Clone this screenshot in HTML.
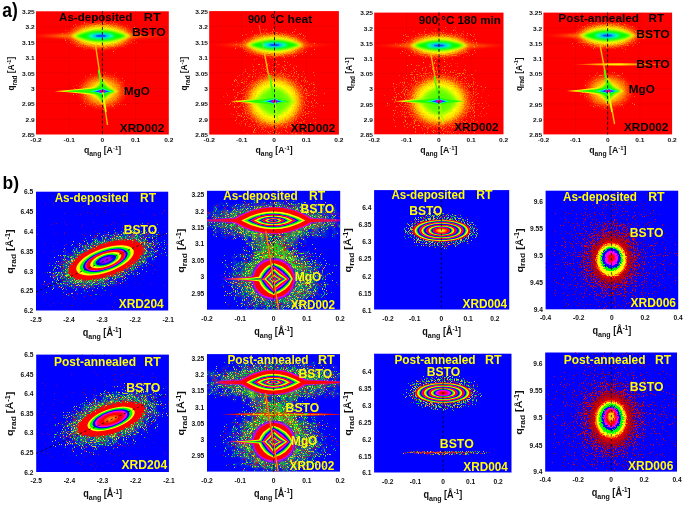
<!DOCTYPE html>
<html><head><meta charset="utf-8"><title>XRD reciprocal space maps</title>
<style>
html,body{margin:0;padding:0;background:#fff}
body{width:685px;height:508px;overflow:hidden}
svg{display:block}
text{font-family:"Liberation Sans",Arial,sans-serif;font-weight:bold}
</style></head><body>
<svg width="685" height="508" viewBox="0 0 685 508">
<defs>
<filter id="b05" x="-30%" y="-60%" width="160%" height="220%"><feGaussianBlur stdDeviation="0.5"/></filter>
<filter id="b1" x="-30%" y="-60%" width="160%" height="220%"><feGaussianBlur stdDeviation="0.7"/></filter>
<filter id="b2" x="-30%" y="-60%" width="160%" height="220%"><feGaussianBlur stdDeviation="1.2"/></filter>
<filter id="b3" x="-30%" y="-60%" width="160%" height="220%"><feGaussianBlur stdDeviation="2.2"/></filter>
<filter id="soft" x="-5%" y="-5%" width="110%" height="110%"><feGaussianBlur stdDeviation="0.4"/></filter>
<filter id="r6" x="-10%" y="-10%" width="120%" height="120%"><feTurbulence type="fractalNoise" baseFrequency="0.9" numOctaves="1" seed="2" result="n"/><feDisplacementMap in="SourceGraphic" in2="n" scale="7" xChannelSelector="R" yChannelSelector="G" result="d"/><feGaussianBlur in="d" stdDeviation="0.35"/></filter>
<filter id="r4" x="-10%" y="-10%" width="120%" height="120%"><feTurbulence type="fractalNoise" baseFrequency="0.9" numOctaves="1" seed="4" result="n"/><feDisplacementMap in="SourceGraphic" in2="n" scale="4.5" xChannelSelector="R" yChannelSelector="G" result="d"/><feGaussianBlur in="d" stdDeviation="0.35"/></filter>
<filter id="r2" x="-10%" y="-10%" width="120%" height="120%"><feTurbulence type="fractalNoise" baseFrequency="0.9" numOctaves="1" seed="6" result="n"/><feDisplacementMap in="SourceGraphic" in2="n" scale="2.4" xChannelSelector="R" yChannelSelector="G" result="d"/><feGaussianBlur in="d" stdDeviation="0.3"/></filter>
<filter id="r1" x="-10%" y="-10%" width="120%" height="120%"><feTurbulence type="fractalNoise" baseFrequency="0.9" numOctaves="1" seed="8" result="n"/><feDisplacementMap in="SourceGraphic" in2="n" scale="1.3" xChannelSelector="R" yChannelSelector="G" result="d"/><feGaussianBlur in="d" stdDeviation="0.3"/></filter>
<filter id="spb" x="0" y="0" width="1" height="1" color-interpolation-filters="sRGB"><feTurbulence type="fractalNoise" baseFrequency="0.9" numOctaves="1" seed="3" result="n"/><feComposite in="n" in2="SourceGraphic" operator="arithmetic" k1="1" k2="0" k3="0" k4="0" result="m"/><feComponentTransfer in="m" result="t"><feFuncA type="discrete" tableValues="0 0 0 0 0 0 0 0 0 0 0.75 0.75 0.75 0.75 0.75 0.75 0.75 0.75 0.75 0.75"/></feComponentTransfer><feColorMatrix in="n" type="matrix" values="1 0 0 0 0 1 0 0 0 0 1 0 0 0 0 0 0 0 0 1" result="n1"/><feComponentTransfer in="n1" result="c"><feFuncR type="discrete" tableValues="1 1 1 1 1 1 1 1 1 1 1 1 1 1 1 1 1 1 1 1 1 0 0 0 0 0 0 0 0 0 0 0 0 0 0 0 0 0 0 0"/><feFuncG type="discrete" tableValues="0 0 0 0 0 0 0 0 0 0 0 0 0 0 0 0 0 1 1 1 1 1 1 1 1 1 1 1 1 1 1 1 1 1 1 1 1 1 1 1"/><feFuncB type="discrete" tableValues="0 0 0 0 0 0 0 0 0 0 0 0 0 0 0 0 0 0 0 0 0 0 0 0 0 0 0 0 0 0 0 0 0 0 0 0 0 0 0 0"/></feComponentTransfer><feComposite in="c" in2="t" operator="in" result="s"/><feGaussianBlur in="s" stdDeviation="0.45"/></filter>
<filter id="hzb" x="0" y="0" width="1" height="1" color-interpolation-filters="sRGB"><feTurbulence type="fractalNoise" baseFrequency="0.9" numOctaves="1" seed="11" result="n"/><feComposite in="n" in2="SourceGraphic" operator="arithmetic" k1="1" k2="0" k3="0" k4="0" result="m"/><feComponentTransfer in="m" result="t"><feFuncA type="discrete" tableValues="0 0 0 0 0 0 0 0 0 0 0.95 0.95 0.95 0.95 0.95 0.95 0.95 0.95 0.95 0.95"/></feComponentTransfer><feColorMatrix in="n" type="matrix" values="1 0 0 0 0 1 0 0 0 0 1 0 0 0 0 0 0 0 0 1" result="n1"/><feComponentTransfer in="n1" result="c"><feFuncR type="discrete" tableValues="1 1 1 1 1 1 1 1 1 1 1 1 1 1 1 1 1 1 1 0 0 0 0 0 0 0 0 0 0 0 0 0 0 0 0 0 0 0 0 0"/><feFuncG type="discrete" tableValues="0 0 0 0 0 0 0 0 0 0 0 0 0 0 0 0 1 1 1 1 1 1 1 1 1 1 1 1 1 1 1 1 1 1 1 1 1 1 1 1"/><feFuncB type="discrete" tableValues="0 0 0 0 0 0 0 0 0 0 0 0 0 0 0 0 0 0 0 0 0 0 0 0 0 0 0 0 0 0 0 0 0 0 0 0 0 0 0 0"/></feComponentTransfer><feComposite in="c" in2="t" operator="in" result="s"/><feGaussianBlur in="s" stdDeviation="0.85"/></filter>
<filter id="hzr" x="0" y="0" width="1" height="1" color-interpolation-filters="sRGB"><feTurbulence type="fractalNoise" baseFrequency="0.9" numOctaves="1" seed="13" result="n"/><feComposite in="n" in2="SourceGraphic" operator="arithmetic" k1="1" k2="0" k3="0" k4="0" result="m"/><feComponentTransfer in="m" result="t"><feFuncA type="discrete" tableValues="0 0 0 0 0 0 0 0 0 0 1 1 1 1 1 1 1 1 1 1"/></feComponentTransfer><feColorMatrix in="n" type="matrix" values="1 0 0 0 0 1 0 0 0 0 1 0 0 0 0 0 0 0 0 1" result="n1"/><feComponentTransfer in="n1" result="c"><feFuncR type="discrete" tableValues=".5 .5 .5 .5 .5 .5 .55 .6 .65 .7 .8 .9 1 1 1 1 1 1 1 1"/><feFuncG type="discrete" tableValues="0 0"/><feFuncB type="discrete" tableValues="0 0"/></feComponentTransfer><feComposite in="c" in2="t" operator="in" result="s"/><feGaussianBlur in="s" stdDeviation="0.7"/></filter>
<filter id="spd" x="0" y="0" width="1" height="1" color-interpolation-filters="sRGB"><feTurbulence type="fractalNoise" baseFrequency="0.9" numOctaves="1" seed="17" result="n"/><feComposite in="n" in2="SourceGraphic" operator="arithmetic" k1="1" k2="0" k3="0" k4="0" result="m"/><feComponentTransfer in="m" result="t"><feFuncA type="discrete" tableValues="0 0 0 0 0 0 0 0 0 0 0.7 0.7 0.7 0.7 0.7 0.7 0.7 0.7 0.7 0.7"/></feComponentTransfer><feColorMatrix in="n" type="matrix" values="1 0 0 0 0 1 0 0 0 0 1 0 0 0 0 0 0 0 0 1" result="n1"/><feComponentTransfer in="n1" result="c"><feFuncR type="discrete" tableValues=".6 .6 .6 .6 .6 .6 .6 .6 .6 .6 .7 .7 .7 .7 .7 .7 .7 .7 .7 .7"/><feFuncG type="discrete" tableValues="0 0"/><feFuncB type="discrete" tableValues=".1 .1 .1 .1 .1 .1 .1 .1 .1 .3 .3 .3 .3 .3 .3 .3 .3 .3 .3 .3"/></feComponentTransfer><feComposite in="c" in2="t" operator="in" result="s"/><feGaussianBlur in="s" stdDeviation="0.4"/></filter>
<filter id="spa" x="0" y="0" width="1" height="1" color-interpolation-filters="sRGB"><feTurbulence type="fractalNoise" baseFrequency="0.9" numOctaves="1" seed="5" result="n"/><feComposite in="n" in2="SourceGraphic" operator="arithmetic" k1="1" k2="0" k3="0" k4="0" result="m"/><feComponentTransfer in="m" result="t"><feFuncA type="discrete" tableValues="0 0 0 0 0 0 0 0 0 0 0.7 0.7 0.7 0.7 0.7 0.7 0.7 0.7 0.7 0.7"/></feComponentTransfer><feColorMatrix in="n" type="matrix" values="1 0 0 0 0 1 0 0 0 0 1 0 0 0 0 0 0 0 0 1" result="n1"/><feComponentTransfer in="n1" result="c"><feFuncR type="discrete" tableValues="1 1"/><feFuncG type="discrete" tableValues=".25 .25 .25 .25 .25 .25 .25 .3 .35 .4 .5 .6 .7 .8 .8 .8 .8 .8 .8 .8"/><feFuncB type="discrete" tableValues="0 0"/></feComponentTransfer><feComposite in="c" in2="t" operator="in" result="s"/><feGaussianBlur in="s" stdDeviation="0.3"/></filter>
<filter id="spr" x="0" y="0" width="1" height="1" color-interpolation-filters="sRGB"><feTurbulence type="fractalNoise" baseFrequency="0.9" numOctaves="1" seed="7" result="n"/><feComposite in="n" in2="SourceGraphic" operator="arithmetic" k1="1" k2="0" k3="0" k4="0" result="m"/><feComponentTransfer in="m" result="t"><feFuncA type="discrete" tableValues="0 0 0 0 0 0 0 0 0 0 0.85 0.85 0.85 0.85 0.85 0.85 0.85 0.85 0.85 0.85"/></feComponentTransfer><feColorMatrix in="n" type="matrix" values="1 0 0 0 0 1 0 0 0 0 1 0 0 0 0 0 0 0 0 1" result="n1"/><feComponentTransfer in="n1" result="c"><feFuncR type="discrete" tableValues=".4 .4 .4 .4 .4 .4 .45 .5 .55 .65 .75 .85 .95 1 1 1 1 1 1 1"/><feFuncG type="discrete" tableValues="0 0"/><feFuncB type="discrete" tableValues=".25 .25 .25 .25 .25 .25 .2 .2 .15 .1 .05 0 0 0 0 0 0 0 0 0"/></feComponentTransfer><feComposite in="c" in2="t" operator="in" result="s"/><feGaussianBlur in="s" stdDeviation="0.35"/></filter>
<clipPath id="c1"><rect x="36.00" y="11.30" width="132.80" height="123.20"/></clipPath>
<clipPath id="c2"><rect x="209.20" y="11.10" width="129.70" height="123.50"/></clipPath>
<clipPath id="c3"><rect x="374.20" y="12.60" width="129.30" height="121.70"/></clipPath>
<clipPath id="c4"><rect x="543.40" y="12.60" width="128.70" height="121.80"/></clipPath>
<clipPath id="c5"><rect x="36.00" y="191.70" width="132.20" height="118.80"/></clipPath>
<clipPath id="c6"><rect x="207.00" y="190.80" width="133.20" height="118.90"/></clipPath>
<clipPath id="c7"><rect x="374.10" y="190.10" width="135.10" height="119.40"/></clipPath>
<clipPath id="c8"><rect x="545.60" y="190.70" width="132.60" height="118.60"/></clipPath>
<clipPath id="c9"><rect x="36.20" y="354.60" width="132.70" height="117.40"/></clipPath>
<clipPath id="c10"><rect x="207.00" y="354.10" width="133.00" height="117.50"/></clipPath>
<clipPath id="c11"><rect x="374.10" y="353.70" width="137.40" height="118.80"/></clipPath>
<clipPath id="c12"><rect x="545.20" y="352.50" width="131.80" height="119.10"/></clipPath>
<radialGradient id="g13" ><stop offset="0" stop-color="#fff" stop-opacity="0.9"/><stop offset="0.5" stop-color="#fff" stop-opacity="0.9"/><stop offset="1" stop-color="#fff" stop-opacity="0.64"/></radialGradient>
<radialGradient id="g14" ><stop offset="0" stop-color="#fff" stop-opacity="0.9"/><stop offset="0.4" stop-color="#fff" stop-opacity="0.9"/><stop offset="1" stop-color="#fff" stop-opacity="0.64"/></radialGradient>
<linearGradient id="g15" gradientUnits="userSpaceOnUse" x1="36.00" x2="168.80" y1="0" y2="0"><stop offset="0" stop-color="#ff7000" stop-opacity="0.25"/><stop offset="0.2" stop-color="#ff9000" stop-opacity="0.8"/><stop offset="0.5" stop-color="#ffff00"/><stop offset="0.8" stop-color="#ff9000" stop-opacity="0.48"/><stop offset="1" stop-color="#ff7000" stop-opacity="0.12"/></linearGradient>
<radialGradient id="g16" ><stop offset="0" stop-color="#ffff00"/><stop offset="0.5" stop-color="#ffee00"/><stop offset="0.68" stop-color="#ffb000" stop-opacity="0.85"/><stop offset="0.84" stop-color="#ff6000" stop-opacity="0.45"/><stop offset="1" stop-color="#ff2000" stop-opacity="0"/></radialGradient>
<radialGradient id="g17" ><stop offset="0" stop-color="#ffff00"/><stop offset="0.35" stop-color="#ffe000"/><stop offset="0.6" stop-color="#ffa000" stop-opacity="0.8"/><stop offset="0.8" stop-color="#ff6000" stop-opacity="0.4"/><stop offset="1" stop-color="#ff2000" stop-opacity="0"/></radialGradient>
<radialGradient id="g18" ><stop offset="0" stop-color="#fff" stop-opacity="0.92"/><stop offset="0.5" stop-color="#fff" stop-opacity="0.92"/><stop offset="1" stop-color="#fff" stop-opacity="0.64"/></radialGradient>
<radialGradient id="g19" ><stop offset="0" stop-color="#fff" stop-opacity="0.97"/><stop offset="0.5" stop-color="#fff" stop-opacity="0.97"/><stop offset="1" stop-color="#fff" stop-opacity="0.64"/></radialGradient>
<linearGradient id="g20" gradientUnits="userSpaceOnUse" x1="219.20" x2="328.90" y1="0" y2="0"><stop offset="0" stop-color="#ff7000" stop-opacity="0.15"/><stop offset="0.2" stop-color="#ff9000" stop-opacity="0.48"/><stop offset="0.5" stop-color="#ffff00"/><stop offset="0.8" stop-color="#ff9000" stop-opacity="0.4"/><stop offset="1" stop-color="#ff7000" stop-opacity="0.1"/></linearGradient>
<radialGradient id="g21" ><stop offset="0" stop-color="#ffff00"/><stop offset="0.5" stop-color="#ffee00"/><stop offset="0.68" stop-color="#ffb000" stop-opacity="0.85"/><stop offset="0.84" stop-color="#ff6000" stop-opacity="0.45"/><stop offset="1" stop-color="#ff2000" stop-opacity="0"/></radialGradient>
<radialGradient id="g22" ><stop offset="0" stop-color="#48ff00"/><stop offset="0.32" stop-color="#80ff00"/><stop offset="0.47" stop-color="#c8ff00"/><stop offset="0.53" stop-color="#ffff00"/><stop offset="0.63" stop-color="#ffe000"/><stop offset="0.73" stop-color="#ffb000" stop-opacity="0.9"/><stop offset="0.86" stop-color="#ff6000" stop-opacity="0.5"/><stop offset="1" stop-color="#ff2000" stop-opacity="0"/></radialGradient>
<linearGradient id="g23" gradientUnits="userSpaceOnUse" x1="230.30" x2="268.30" y1="0" y2="0"><stop offset="0" stop-color="#fff000"/><stop offset="0.45" stop-color="#e0ff00"/><stop offset="0.7" stop-color="#a0ff00" stop-opacity="0.9"/><stop offset="1" stop-color="#80ff00" stop-opacity="0"/></linearGradient>
<radialGradient id="g24" ><stop offset="0" stop-color="#fff" stop-opacity="0.92"/><stop offset="0.5" stop-color="#fff" stop-opacity="0.92"/><stop offset="1" stop-color="#fff" stop-opacity="0.64"/></radialGradient>
<radialGradient id="g25" ><stop offset="0" stop-color="#fff" stop-opacity="0.97"/><stop offset="0.5" stop-color="#fff" stop-opacity="0.97"/><stop offset="1" stop-color="#fff" stop-opacity="0.64"/></radialGradient>
<linearGradient id="g26" gradientUnits="userSpaceOnUse" x1="382.20" x2="503.50" y1="0" y2="0"><stop offset="0" stop-color="#ff7000" stop-opacity="0.225"/><stop offset="0.2" stop-color="#ff9000" stop-opacity="0.72"/><stop offset="0.5" stop-color="#ffff00"/><stop offset="0.8" stop-color="#ff9000" stop-opacity="0.48"/><stop offset="1" stop-color="#ff7000" stop-opacity="0.12"/></linearGradient>
<radialGradient id="g27" ><stop offset="0" stop-color="#ffff00"/><stop offset="0.5" stop-color="#ffee00"/><stop offset="0.68" stop-color="#ffb000" stop-opacity="0.85"/><stop offset="0.84" stop-color="#ff6000" stop-opacity="0.45"/><stop offset="1" stop-color="#ff2000" stop-opacity="0"/></radialGradient>
<radialGradient id="g28" ><stop offset="0" stop-color="#48ff00"/><stop offset="0.32" stop-color="#80ff00"/><stop offset="0.47" stop-color="#c8ff00"/><stop offset="0.53" stop-color="#ffff00"/><stop offset="0.63" stop-color="#ffe000"/><stop offset="0.73" stop-color="#ffb000" stop-opacity="0.9"/><stop offset="0.86" stop-color="#ff6000" stop-opacity="0.5"/><stop offset="1" stop-color="#ff2000" stop-opacity="0"/></radialGradient>
<linearGradient id="g29" gradientUnits="userSpaceOnUse" x1="394.60" x2="433.00" y1="0" y2="0"><stop offset="0" stop-color="#fff000"/><stop offset="0.45" stop-color="#e0ff00"/><stop offset="0.7" stop-color="#a0ff00" stop-opacity="0.9"/><stop offset="1" stop-color="#80ff00" stop-opacity="0"/></linearGradient>
<radialGradient id="g30" ><stop offset="0" stop-color="#fff" stop-opacity="0.9"/><stop offset="0.5" stop-color="#fff" stop-opacity="0.9"/><stop offset="1" stop-color="#fff" stop-opacity="0.64"/></radialGradient>
<radialGradient id="g31" ><stop offset="0" stop-color="#fff" stop-opacity="0.9"/><stop offset="0.4" stop-color="#fff" stop-opacity="0.9"/><stop offset="1" stop-color="#fff" stop-opacity="0.64"/></radialGradient>
<linearGradient id="g32" gradientUnits="userSpaceOnUse" x1="551.40" x2="672.10" y1="0" y2="0"><stop offset="0" stop-color="#ff7000" stop-opacity="0.25"/><stop offset="0.2" stop-color="#ff9000" stop-opacity="0.8"/><stop offset="0.5" stop-color="#ffff00"/><stop offset="0.8" stop-color="#ff9000" stop-opacity="0.32"/><stop offset="1" stop-color="#ff7000" stop-opacity="0.08"/></linearGradient>
<radialGradient id="g33" ><stop offset="0" stop-color="#ffff00"/><stop offset="0.5" stop-color="#ffee00"/><stop offset="0.68" stop-color="#ffb000" stop-opacity="0.85"/><stop offset="0.84" stop-color="#ff6000" stop-opacity="0.45"/><stop offset="1" stop-color="#ff2000" stop-opacity="0"/></radialGradient>
<linearGradient id="g34" gradientUnits="userSpaceOnUse" x1="572.00" x2="668.00" y1="0" y2="0"><stop offset="0" stop-color="#ffa000" stop-opacity="0"/><stop offset="0.15" stop-color="#ffb000" stop-opacity="0.6"/><stop offset="0.38" stop-color="#ffff00" stop-opacity="0.95"/><stop offset="0.5" stop-color="#ffff00" stop-opacity="0.95"/><stop offset="0.7" stop-color="#ffc000" stop-opacity="0.75"/><stop offset="1" stop-color="#ffa000" stop-opacity="0.3"/></linearGradient>
<radialGradient id="g35" ><stop offset="0" stop-color="#ffff00"/><stop offset="0.35" stop-color="#ffe000"/><stop offset="0.6" stop-color="#ffa000" stop-opacity="0.8"/><stop offset="0.8" stop-color="#ff6000" stop-opacity="0.4"/><stop offset="1" stop-color="#ff2000" stop-opacity="0"/></radialGradient>
<radialGradient id="g36" ><stop offset="0" stop-color="#fff" stop-opacity="0.71"/><stop offset="0.3" stop-color="#fff" stop-opacity="0.71"/><stop offset="1" stop-color="#fff" stop-opacity="0.66"/></radialGradient>
<radialGradient id="g37" ><stop offset="0" stop-color="#fff"/><stop offset="0.62" stop-color="#fff"/><stop offset="1" stop-color="#fff" stop-opacity="0.64"/></radialGradient>
<radialGradient id="g38" ><stop offset="0" stop-color="#fff" stop-opacity="0.97"/><stop offset="0.55" stop-color="#fff" stop-opacity="0.97"/><stop offset="1" stop-color="#fff" stop-opacity="0.64"/></radialGradient>
<radialGradient id="g39" ><stop offset="0" stop-color="#fff"/><stop offset="0.5" stop-color="#fff"/><stop offset="1" stop-color="#fff" stop-opacity="0.64"/></radialGradient>
<radialGradient id="g40" ><stop offset="0" stop-color="#fff" stop-opacity="0.95"/><stop offset="0.5" stop-color="#fff" stop-opacity="0.95"/><stop offset="1" stop-color="#fff" stop-opacity="0.64"/></radialGradient>
<radialGradient id="g41" ><stop offset="0" stop-color="#fff" stop-opacity="0.97"/><stop offset="0.5" stop-color="#fff" stop-opacity="0.97"/><stop offset="1" stop-color="#fff" stop-opacity="0.64"/></radialGradient>
<radialGradient id="g42" ><stop offset="0" stop-color="#fff" stop-opacity="0.97"/><stop offset="0.5" stop-color="#fff" stop-opacity="0.97"/><stop offset="1" stop-color="#fff" stop-opacity="0.64"/></radialGradient>
<radialGradient id="g43" ><stop offset="0" stop-color="#fff" stop-opacity="0.93"/><stop offset="0.4" stop-color="#fff" stop-opacity="0.93"/><stop offset="1" stop-color="#fff" stop-opacity="0.64"/></radialGradient>
<linearGradient id="g44" gradientUnits="userSpaceOnUse" x1="207.00" x2="340.20" y1="0" y2="0"><stop offset="0" stop-color="#b000ff" stop-opacity="0.5"/><stop offset="0.3" stop-color="#c000ff" stop-opacity="0.9"/><stop offset="0.7" stop-color="#c000ff" stop-opacity="0.9"/><stop offset="1" stop-color="#b000ff" stop-opacity="0.5"/></linearGradient>
<linearGradient id="g45" gradientUnits="userSpaceOnUse" x1="207.00" x2="340.20" y1="0" y2="0"><stop offset="0" stop-color="#ff0040" stop-opacity="0.7"/><stop offset="0.25" stop-color="#ff0000"/><stop offset="0.75" stop-color="#ff0000"/><stop offset="1" stop-color="#ff0040" stop-opacity="0.7"/></linearGradient>
<radialGradient id="g46" ><stop offset="0" stop-color="#fff"/><stop offset="0.55" stop-color="#fff"/><stop offset="1" stop-color="#fff" stop-opacity="0.64"/></radialGradient>
<radialGradient id="g47" ><stop offset="0" stop-color="#fff" stop-opacity="0.95"/><stop offset="0.5" stop-color="#fff" stop-opacity="0.95"/><stop offset="1" stop-color="#fff" stop-opacity="0.64"/></radialGradient>
<radialGradient id="g48" ><stop offset="0" stop-color="#fff"/><stop offset="0.72" stop-color="#fff"/><stop offset="1" stop-color="#fff" stop-opacity="0.64"/></radialGradient>
<radialGradient id="g49" ><stop offset="0" stop-color="#fff"/><stop offset="0.5" stop-color="#fff"/><stop offset="1" stop-color="#fff" stop-opacity="0.64"/></radialGradient>
<radialGradient id="g50" ><stop offset="0" stop-color="#fff"/><stop offset="0.3" stop-color="#fff"/><stop offset="0.5" stop-color="#fff" stop-opacity="0.8"/><stop offset="1" stop-color="#fff" stop-opacity="0.67"/></radialGradient>
<radialGradient id="g51" ><stop offset="0" stop-color="#ff0000"/><stop offset="0.62" stop-color="#f00000"/><stop offset="0.76" stop-color="#d00000" stop-opacity="0.85"/><stop offset="0.88" stop-color="#a80000" stop-opacity="0.5"/><stop offset="1" stop-color="#900000" stop-opacity="0"/></radialGradient>
<radialGradient id="g52" ><stop offset="0" stop-color="#fff" stop-opacity="0.71"/><stop offset="0.3" stop-color="#fff" stop-opacity="0.71"/><stop offset="1" stop-color="#fff" stop-opacity="0.66"/></radialGradient>
<radialGradient id="g53" ><stop offset="0" stop-color="#fff"/><stop offset="0.6" stop-color="#fff"/><stop offset="1" stop-color="#fff" stop-opacity="0.64"/></radialGradient>
<radialGradient id="g54" ><stop offset="0" stop-color="#fff" stop-opacity="0.97"/><stop offset="0.52" stop-color="#fff" stop-opacity="0.97"/><stop offset="1" stop-color="#fff" stop-opacity="0.64"/></radialGradient>
<radialGradient id="g55" ><stop offset="0" stop-color="#fff"/><stop offset="0.5" stop-color="#fff"/><stop offset="1" stop-color="#fff" stop-opacity="0.64"/></radialGradient>
<radialGradient id="g56" ><stop offset="0" stop-color="#fff" stop-opacity="0.95"/><stop offset="0.5" stop-color="#fff" stop-opacity="0.95"/><stop offset="1" stop-color="#fff" stop-opacity="0.64"/></radialGradient>
<radialGradient id="g57" ><stop offset="0" stop-color="#fff" stop-opacity="0.97"/><stop offset="0.5" stop-color="#fff" stop-opacity="0.97"/><stop offset="1" stop-color="#fff" stop-opacity="0.64"/></radialGradient>
<radialGradient id="g58" ><stop offset="0" stop-color="#fff" stop-opacity="0.97"/><stop offset="0.5" stop-color="#fff" stop-opacity="0.97"/><stop offset="1" stop-color="#fff" stop-opacity="0.64"/></radialGradient>
<radialGradient id="g59" ><stop offset="0" stop-color="#fff" stop-opacity="0.93"/><stop offset="0.4" stop-color="#fff" stop-opacity="0.93"/><stop offset="1" stop-color="#fff" stop-opacity="0.64"/></radialGradient>
<linearGradient id="g60" gradientUnits="userSpaceOnUse" x1="215.00" x2="370.00" y1="0" y2="0"><stop offset="0" stop-color="#b000ff" stop-opacity="0"/><stop offset="0.05" stop-color="#c000ff" stop-opacity="0.8"/><stop offset="0.3" stop-color="#c000ff" stop-opacity="0.9"/><stop offset="0.7" stop-color="#c000ff" stop-opacity="0.9"/><stop offset="1" stop-color="#b000ff" stop-opacity="0.5"/></linearGradient>
<linearGradient id="g61" gradientUnits="userSpaceOnUse" x1="215.00" x2="370.00" y1="0" y2="0"><stop offset="0" stop-color="#ff0040" stop-opacity="0"/><stop offset="0.05" stop-color="#ff0020" stop-opacity="0.9"/><stop offset="0.25" stop-color="#ff0000"/><stop offset="0.75" stop-color="#ff0000"/><stop offset="1" stop-color="#ff0040" stop-opacity="0.7"/></linearGradient>
<radialGradient id="g62" ><stop offset="0" stop-color="#fff"/><stop offset="0.55" stop-color="#fff"/><stop offset="1" stop-color="#fff" stop-opacity="0.64"/></radialGradient>
<radialGradient id="g63" ><stop offset="0" stop-color="#fff" stop-opacity="0.95"/><stop offset="0.5" stop-color="#fff" stop-opacity="0.95"/><stop offset="1" stop-color="#fff" stop-opacity="0.64"/></radialGradient>
<radialGradient id="g64" ><stop offset="0" stop-color="#fff"/><stop offset="0.72" stop-color="#fff"/><stop offset="1" stop-color="#fff" stop-opacity="0.64"/></radialGradient>
<radialGradient id="g65" ><stop offset="0" stop-color="#fff"/><stop offset="0.8" stop-color="#fff"/><stop offset="1" stop-color="#fff" stop-opacity="0.64"/></radialGradient>
<radialGradient id="g66" ><stop offset="0" stop-color="#fff"/><stop offset="0.5" stop-color="#fff"/><stop offset="1" stop-color="#fff" stop-opacity="0.64"/></radialGradient>
<radialGradient id="g67" ><stop offset="0" stop-color="#fff"/><stop offset="0.3" stop-color="#fff"/><stop offset="0.5" stop-color="#fff" stop-opacity="0.8"/><stop offset="1" stop-color="#fff" stop-opacity="0.67"/></radialGradient>
<radialGradient id="g68" ><stop offset="0" stop-color="#ff0000"/><stop offset="0.62" stop-color="#f00000"/><stop offset="0.76" stop-color="#d00000" stop-opacity="0.85"/><stop offset="0.88" stop-color="#a80000" stop-opacity="0.5"/><stop offset="1" stop-color="#900000" stop-opacity="0"/></radialGradient>
</defs>
<rect width="685" height="508" fill="#fff"/>
<rect x="36.00" y="11.30" width="132.80" height="123.20" fill="#ff0000"/>
<g stroke="#600000" stroke-opacity="0.4" stroke-width="0.6" stroke-dasharray="0.8 1.2"><line x1="36.00" y1="26.70" x2="168.80" y2="26.70"/><line x1="36.00" y1="42.10" x2="168.80" y2="42.10"/><line x1="36.00" y1="57.50" x2="168.80" y2="57.50"/><line x1="36.00" y1="72.90" x2="168.80" y2="72.90"/><line x1="36.00" y1="88.30" x2="168.80" y2="88.30"/><line x1="36.00" y1="103.70" x2="168.80" y2="103.70"/><line x1="36.00" y1="119.10" x2="168.80" y2="119.10"/><line x1="69.20" y1="11.30" x2="69.20" y2="134.50"/><line x1="102.40" y1="11.30" x2="102.40" y2="134.50"/><line x1="135.60" y1="11.30" x2="135.60" y2="134.50"/></g>
<g clip-path="url(#c1)"><g filter="url(#spa)"><ellipse cx="101.00" cy="36.00" rx="46.00" ry="18.00" fill="url(#g13)"/></g></g>
<g clip-path="url(#c1)"><g filter="url(#spa)"><ellipse cx="102.00" cy="91.50" rx="34.00" ry="24.00" fill="url(#g14)"/></g></g>
<g clip-path="url(#c1)">
<path d="M26.00 35.90Q102.40 30.70 178.80 35.90Q102.40 41.10 26.00 35.90Z" fill="url(#g15)" filter="url(#b2)"/>
<ellipse cx="101.00" cy="35.90" rx="38.00" ry="15.50" fill="url(#g16)" filter="url(#r4)"/>
<path d="M71.00 35.90Q101.00 20.70 131.00 35.90Q101.00 51.10 71.00 35.90Z" fill="#e8ff00" filter="url(#b2)"/>
<path d="M75.50 35.90Q101.00 24.70 126.50 35.90Q101.00 47.10 75.50 35.90Z" fill="#00ff00" filter="url(#b2)"/>
<ellipse cx="101.00" cy="35.90" rx="13.00" ry="3.00" fill="#00ffd0" filter="url(#b2)"/>
<ellipse cx="101.00" cy="35.90" rx="8.50" ry="2.00" fill="#00a0ff" filter="url(#b2)"/>
<ellipse cx="101.00" cy="35.90" rx="5.00" ry="1.10" fill="#0050ff" filter="url(#b1)"/>
</g>
<g clip-path="url(#c1)"><line x1="95.50" y1="45.00" x2="107.50" y2="125.00" stroke="#ffc000" stroke-width="1.40" stroke-opacity="1.00" filter="url(#b1)"/></g>
<g clip-path="url(#c1)">
<ellipse cx="102.30" cy="91.20" rx="27.00" ry="20.00" fill="url(#g17)" filter="url(#r4)"/>
<path d="M85.30 91.20Q97.20 87.15 102.30 77.70Q107.10 87.15 118.30 91.20Q107.10 95.25 102.30 104.70Q97.20 95.25 85.30 91.20Z" fill="#fff000" filter="url(#b2)"/>
<path d="M54.50 91.20Q83.18 89.12 102.30 86.00Q108.58 89.12 118.00 91.20Q108.58 93.28 102.30 96.40Q83.18 93.28 54.50 91.20Z" fill="#fff000" filter="url(#b1)"/>
<path d="M63.50 91.20Q86.78 89.76 102.30 87.60Q106.98 89.76 114.00 91.20Q106.98 92.64 102.30 94.80Q86.78 92.64 63.50 91.20Z" fill="#20ff00" filter="url(#b1)"/>
<path d="M89.30 91.20Q99.05 88.45 102.30 80.20Q105.55 88.45 115.30 91.20Q105.55 93.95 102.30 102.20Q99.05 93.95 89.30 91.20Z" fill="#10ff00" filter="url(#b2)"/>
<path d="M88.80 91.20Q98.59 90.29 102.30 87.90Q105.46 90.29 113.80 91.20Q105.46 92.11 102.30 94.50Q98.59 92.11 88.80 91.20Z" fill="#00ffe0" filter="url(#b1)"/>
<path d="M93.80 91.20Q99.75 90.51 102.30 88.90Q104.55 90.51 109.80 91.20Q104.55 91.89 102.30 93.50Q99.75 91.89 93.80 91.20Z" fill="#0030ff" filter="url(#b1)"/>
<ellipse cx="102.30" cy="91.20" rx="3.00" ry="1.50" fill="#d000d0" />
<ellipse cx="102.30" cy="91.20" rx="1.40" ry="0.80" fill="#ff0030" />
</g>
<g clip-path="url(#c1)"><line x1="98.50" y1="70.00" x2="102.00" y2="90.00" stroke="#40ff00" stroke-width="1.60" stroke-opacity="1.00" filter="url(#b1)"/></g>
<g clip-path="url(#c1)"><line x1="102.60" y1="92.00" x2="106.00" y2="112.00" stroke="#e0ff00" stroke-width="1.60" stroke-opacity="1.00" filter="url(#b1)"/></g>
<line x1="102.40" y1="11.30" x2="102.40" y2="134.50" stroke="#000" stroke-opacity="0.85" stroke-width="1.00" stroke-dasharray="3 2.2"/>
<rect x="209.20" y="11.10" width="129.70" height="123.50" fill="#ff0000"/>
<g stroke="#600000" stroke-opacity="0.4" stroke-width="0.6" stroke-dasharray="0.8 1.2"><line x1="209.20" y1="26.54" x2="338.90" y2="26.54"/><line x1="209.20" y1="41.98" x2="338.90" y2="41.98"/><line x1="209.20" y1="57.41" x2="338.90" y2="57.41"/><line x1="209.20" y1="72.85" x2="338.90" y2="72.85"/><line x1="209.20" y1="88.29" x2="338.90" y2="88.29"/><line x1="209.20" y1="103.72" x2="338.90" y2="103.72"/><line x1="209.20" y1="119.16" x2="338.90" y2="119.16"/><line x1="241.62" y1="11.10" x2="241.62" y2="134.60"/><line x1="274.05" y1="11.10" x2="274.05" y2="134.60"/><line x1="306.47" y1="11.10" x2="306.47" y2="134.60"/></g>
<g clip-path="url(#c2)"><g filter="url(#spa)"><ellipse cx="274.50" cy="45.00" rx="46.00" ry="20.00" fill="url(#g18)"/></g></g>
<g clip-path="url(#c2)"><g filter="url(#spa)"><ellipse cx="274.50" cy="101.00" rx="54.00" ry="46.00" fill="url(#g19)"/></g></g>
<g clip-path="url(#c2)">
<path d="M209.20 45.00Q274.05 39.80 338.90 45.00Q274.05 50.20 209.20 45.00Z" fill="url(#g20)" filter="url(#b2)"/>
<ellipse cx="274.50" cy="45.00" rx="36.86" ry="13.95" fill="url(#g21)" filter="url(#r4)"/>
<path d="M245.40 45.00Q274.50 31.32 303.60 45.00Q274.50 58.68 245.40 45.00Z" fill="#e8ff00" filter="url(#b2)"/>
<path d="M249.76 45.00Q274.50 34.92 299.24 45.00Q274.50 55.08 249.76 45.00Z" fill="#00ff00" filter="url(#b2)"/>
<ellipse cx="274.50" cy="45.00" rx="12.61" ry="2.70" fill="#00ffd0" filter="url(#b2)"/>
<ellipse cx="274.50" cy="45.00" rx="8.24" ry="1.80" fill="#00a0ff" filter="url(#b2)"/>
<ellipse cx="274.50" cy="45.00" rx="4.85" ry="0.99" fill="#0050ff" filter="url(#b1)"/>
</g>
<g clip-path="url(#c2)"><line x1="259.00" y1="25.00" x2="264.00" y2="50.00" stroke="#ffc000" stroke-width="1.00" stroke-opacity="0.50" filter="url(#b1)"/></g>
<g clip-path="url(#c2)"><line x1="264.50" y1="53.00" x2="277.50" y2="124.50" stroke="#ffc000" stroke-width="1.40" stroke-opacity="1.00" filter="url(#b1)"/></g>
<g clip-path="url(#c2)">
<ellipse cx="274.30" cy="101.30" rx="33.50" ry="30.00" fill="url(#g22)" filter="url(#r6)"/>
<path d="M252.30 101.30Q264.40 95.00 274.30 87.30Q283.75 95.00 295.30 101.30Q283.75 107.60 274.30 115.30Q264.40 107.60 252.30 101.30Z" fill="#58ff00" opacity="0.75" filter="url(#b3)"/>
<path d="M230.30 101.30Q256.70 99.22 274.30 96.10Q282.18 99.22 294.00 101.30Q282.18 103.38 274.30 106.50Q256.70 103.38 230.30 101.30Z" fill="url(#g23)" filter="url(#b1)"/>
<path d="M239.30 101.30Q260.30 99.86 274.30 97.70Q280.58 99.86 290.00 101.30Q280.58 102.74 274.30 104.90Q260.30 102.74 239.30 101.30Z" fill="#20ff00" filter="url(#b1)"/>
<path d="M260.80 101.30Q270.59 100.39 274.30 98.00Q277.46 100.39 285.80 101.30Q277.46 102.21 274.30 104.60Q270.59 102.21 260.80 101.30Z" fill="#00ffe0" filter="url(#b1)"/>
<path d="M265.80 101.30Q271.75 100.61 274.30 99.00Q276.55 100.61 281.80 101.30Q276.55 101.99 274.30 103.60Q271.75 101.99 265.80 101.30Z" fill="#0030ff" filter="url(#b1)"/>
<ellipse cx="274.30" cy="101.30" rx="3.00" ry="1.50" fill="#d000d0" />
<ellipse cx="274.30" cy="101.30" rx="1.40" ry="0.80" fill="#ff0030" />
</g>
<g clip-path="url(#c2)"><line x1="269.50" y1="75.00" x2="274.00" y2="100.00" stroke="#40ff00" stroke-width="1.60" stroke-opacity="1.00" filter="url(#b1)"/></g>
<g clip-path="url(#c2)"><line x1="274.80" y1="102.00" x2="278.00" y2="122.00" stroke="#a0ff00" stroke-width="1.60" stroke-opacity="1.00" filter="url(#b1)"/></g>
<line x1="274.50" y1="11.10" x2="274.50" y2="134.60" stroke="#000" stroke-opacity="0.85" stroke-width="1.00" stroke-dasharray="3 2.2"/>
<rect x="374.20" y="12.60" width="129.30" height="121.70" fill="#ff0000"/>
<g stroke="#600000" stroke-opacity="0.4" stroke-width="0.6" stroke-dasharray="0.8 1.2"><line x1="374.20" y1="27.81" x2="503.50" y2="27.81"/><line x1="374.20" y1="43.03" x2="503.50" y2="43.03"/><line x1="374.20" y1="58.24" x2="503.50" y2="58.24"/><line x1="374.20" y1="73.45" x2="503.50" y2="73.45"/><line x1="374.20" y1="88.66" x2="503.50" y2="88.66"/><line x1="374.20" y1="103.88" x2="503.50" y2="103.88"/><line x1="374.20" y1="119.09" x2="503.50" y2="119.09"/><line x1="406.52" y1="12.60" x2="406.52" y2="134.30"/><line x1="438.85" y1="12.60" x2="438.85" y2="134.30"/><line x1="471.18" y1="12.60" x2="471.18" y2="134.30"/></g>
<g clip-path="url(#c3)"><g filter="url(#spa)"><ellipse cx="439.00" cy="45.50" rx="48.00" ry="20.00" fill="url(#g24)"/></g></g>
<g clip-path="url(#c3)"><g filter="url(#spa)"><ellipse cx="439.00" cy="101.00" rx="56.00" ry="46.00" fill="url(#g25)"/></g></g>
<g clip-path="url(#c3)">
<path d="M372.20 45.50Q442.85 40.30 513.50 45.50Q442.85 50.70 372.20 45.50Z" fill="url(#g26)" filter="url(#b2)"/>
<ellipse cx="439.00" cy="45.50" rx="36.86" ry="13.95" fill="url(#g27)" filter="url(#r4)"/>
<path d="M409.90 45.50Q439.00 31.82 468.10 45.50Q439.00 59.18 409.90 45.50Z" fill="#e8ff00" filter="url(#b2)"/>
<path d="M414.26 45.50Q439.00 35.42 463.74 45.50Q439.00 55.58 414.26 45.50Z" fill="#00ff00" filter="url(#b2)"/>
<ellipse cx="439.00" cy="45.50" rx="12.61" ry="2.70" fill="#00ffd0" filter="url(#b2)"/>
<ellipse cx="439.00" cy="45.50" rx="8.24" ry="1.80" fill="#00a0ff" filter="url(#b2)"/>
<ellipse cx="439.00" cy="45.50" rx="4.85" ry="0.99" fill="#0050ff" filter="url(#b1)"/>
</g>
<g clip-path="url(#c3)"><line x1="430.50" y1="52.00" x2="443.50" y2="124.70" stroke="#ffc000" stroke-width="1.40" stroke-opacity="1.00" filter="url(#b1)"/></g>
<g clip-path="url(#c3)">
<ellipse cx="439.00" cy="101.30" rx="34.50" ry="29.00" fill="url(#g28)" filter="url(#r6)"/>
<path d="M417.00 101.30Q429.10 95.00 439.00 87.30Q448.45 95.00 460.00 101.30Q448.45 107.60 439.00 115.30Q429.10 107.60 417.00 101.30Z" fill="#58ff00" opacity="0.75" filter="url(#b3)"/>
<path d="M394.60 101.30Q421.24 99.22 439.00 96.10Q450.60 99.22 468.00 101.30Q450.60 103.38 439.00 106.50Q421.24 103.38 394.60 101.30Z" fill="url(#g29)" filter="url(#b1)"/>
<path d="M403.60 101.30Q424.84 99.86 439.00 97.70Q449.00 99.86 464.00 101.30Q449.00 102.74 439.00 104.90Q424.84 102.74 403.60 101.30Z" fill="#20ff00" filter="url(#b1)"/>
<path d="M425.50 101.30Q435.29 100.39 439.00 98.00Q442.16 100.39 450.50 101.30Q442.16 102.21 439.00 104.60Q435.29 102.21 425.50 101.30Z" fill="#00ffe0" filter="url(#b1)"/>
<path d="M430.50 101.30Q436.45 100.61 439.00 99.00Q441.25 100.61 446.50 101.30Q441.25 101.99 439.00 103.60Q436.45 101.99 430.50 101.30Z" fill="#0030ff" filter="url(#b1)"/>
<ellipse cx="439.00" cy="101.30" rx="3.00" ry="1.50" fill="#d000d0" />
<ellipse cx="439.00" cy="101.30" rx="1.40" ry="0.80" fill="#ff0030" />
</g>
<g clip-path="url(#c3)"><line x1="434.50" y1="76.00" x2="438.60" y2="100.00" stroke="#40ff00" stroke-width="1.60" stroke-opacity="1.00" filter="url(#b1)"/></g>
<g clip-path="url(#c3)"><line x1="439.40" y1="102.50" x2="443.00" y2="122.00" stroke="#a0ff00" stroke-width="1.60" stroke-opacity="1.00" filter="url(#b1)"/></g>
<line x1="439.00" y1="12.60" x2="439.00" y2="134.30" stroke="#000" stroke-opacity="0.85" stroke-width="1.00" stroke-dasharray="3 2.2"/>
<rect x="543.40" y="12.60" width="128.70" height="121.80" fill="#ff0000"/>
<g stroke="#600000" stroke-opacity="0.4" stroke-width="0.6" stroke-dasharray="0.8 1.2"><line x1="543.40" y1="27.83" x2="672.10" y2="27.83"/><line x1="543.40" y1="43.05" x2="672.10" y2="43.05"/><line x1="543.40" y1="58.28" x2="672.10" y2="58.28"/><line x1="543.40" y1="73.50" x2="672.10" y2="73.50"/><line x1="543.40" y1="88.72" x2="672.10" y2="88.72"/><line x1="543.40" y1="103.95" x2="672.10" y2="103.95"/><line x1="543.40" y1="119.18" x2="672.10" y2="119.18"/><line x1="575.58" y1="12.60" x2="575.58" y2="134.40"/><line x1="607.75" y1="12.60" x2="607.75" y2="134.40"/><line x1="639.92" y1="12.60" x2="639.92" y2="134.40"/></g>
<g clip-path="url(#c4)"><g filter="url(#spa)"><ellipse cx="607.60" cy="36.00" rx="46.00" ry="18.00" fill="url(#g30)"/></g></g>
<g clip-path="url(#c4)"><g filter="url(#spa)"><ellipse cx="608.50" cy="91.00" rx="34.00" ry="24.00" fill="url(#g31)"/></g></g>
<g clip-path="url(#c4)">
<path d="M541.40 35.60Q611.75 30.40 682.10 35.60Q611.75 40.80 541.40 35.60Z" fill="url(#g32)" filter="url(#b2)"/>
<ellipse cx="607.30" cy="35.60" rx="36.10" ry="14.72" fill="url(#g33)" filter="url(#r4)"/>
<path d="M578.80 35.60Q607.30 21.16 635.80 35.60Q607.30 50.04 578.80 35.60Z" fill="#e8ff00" filter="url(#b2)"/>
<path d="M583.07 35.60Q607.30 24.96 631.52 35.60Q607.30 46.24 583.07 35.60Z" fill="#00ff00" filter="url(#b2)"/>
<ellipse cx="607.30" cy="35.60" rx="12.35" ry="2.85" fill="#00ffd0" filter="url(#b2)"/>
<ellipse cx="607.30" cy="35.60" rx="8.07" ry="1.90" fill="#00a0ff" filter="url(#b2)"/>
<ellipse cx="607.30" cy="35.60" rx="4.75" ry="1.04" fill="#0050ff" filter="url(#b1)"/>
</g>
<g clip-path="url(#c4)">
<path d="M570.00 64.40Q620.00 62.20 670.00 64.40Q620.00 66.60 570.00 64.40Z" fill="url(#g34)" filter="url(#b1)"/>
</g>
<g clip-path="url(#c4)"><line x1="599.90" y1="44.00" x2="614.60" y2="124.00" stroke="#ffc000" stroke-width="1.40" stroke-opacity="1.00" filter="url(#b1)"/></g>
<g clip-path="url(#c4)">
<ellipse cx="608.10" cy="91.00" rx="27.00" ry="20.00" fill="url(#g35)" filter="url(#r4)"/>
<path d="M591.10 91.00Q603.00 86.95 608.10 77.50Q612.90 86.95 624.10 91.00Q612.90 95.05 608.10 104.50Q603.00 95.05 591.10 91.00Z" fill="#fff000" filter="url(#b2)"/>
<path d="M566.80 91.00Q591.58 88.92 608.10 85.80Q614.46 88.92 624.00 91.00Q614.46 93.08 608.10 96.20Q591.58 93.08 566.80 91.00Z" fill="#fff000" filter="url(#b1)"/>
<path d="M575.80 91.00Q595.18 89.56 608.10 87.40Q612.86 89.56 620.00 91.00Q612.86 92.44 608.10 94.60Q595.18 92.44 575.80 91.00Z" fill="#20ff00" filter="url(#b1)"/>
<path d="M595.10 91.00Q604.85 88.25 608.10 80.00Q611.35 88.25 621.10 91.00Q611.35 93.75 608.10 102.00Q604.85 93.75 595.10 91.00Z" fill="#10ff00" filter="url(#b2)"/>
<path d="M594.60 91.00Q604.39 90.09 608.10 87.70Q611.26 90.09 619.60 91.00Q611.26 91.91 608.10 94.30Q604.39 91.91 594.60 91.00Z" fill="#00ffe0" filter="url(#b1)"/>
<path d="M599.60 91.00Q605.55 90.31 608.10 88.70Q610.35 90.31 615.60 91.00Q610.35 91.69 608.10 93.30Q605.55 91.69 599.60 91.00Z" fill="#0030ff" filter="url(#b1)"/>
<ellipse cx="608.10" cy="91.00" rx="3.00" ry="1.50" fill="#d000d0" />
<ellipse cx="608.10" cy="91.00" rx="1.40" ry="0.80" fill="#ff0030" />
</g>
<g clip-path="url(#c4)"><line x1="604.30" y1="70.00" x2="607.80" y2="90.00" stroke="#40ff00" stroke-width="1.60" stroke-opacity="1.00" filter="url(#b1)"/></g>
<g clip-path="url(#c4)"><line x1="608.40" y1="92.00" x2="612.00" y2="112.00" stroke="#e0ff00" stroke-width="1.60" stroke-opacity="1.00" filter="url(#b1)"/></g>
<line x1="607.60" y1="12.60" x2="607.60" y2="134.40" stroke="#000" stroke-opacity="0.85" stroke-width="1.00" stroke-dasharray="3 2.2"/>
<text x="21.96" y="14.00" font-size="5.50" fill="#111" textLength="12.84" lengthAdjust="spacingAndGlyphs">3.25</text>
<text x="25.63" y="29.40" font-size="5.50" fill="#111" textLength="9.17" lengthAdjust="spacingAndGlyphs">3.2</text>
<text x="21.96" y="44.80" font-size="5.50" fill="#111" textLength="12.84" lengthAdjust="spacingAndGlyphs">3.15</text>
<text x="25.63" y="60.20" font-size="5.50" fill="#111" textLength="9.17" lengthAdjust="spacingAndGlyphs">3.1</text>
<text x="21.96" y="75.60" font-size="5.50" fill="#111" textLength="12.84" lengthAdjust="spacingAndGlyphs">3.05</text>
<text x="31.13" y="91.00" font-size="5.50" fill="#111" textLength="3.67" lengthAdjust="spacingAndGlyphs">3</text>
<text x="21.96" y="106.40" font-size="5.50" fill="#111" textLength="12.84" lengthAdjust="spacingAndGlyphs">2.95</text>
<text x="25.63" y="121.80" font-size="5.50" fill="#111" textLength="9.17" lengthAdjust="spacingAndGlyphs">2.9</text>
<text x="21.96" y="137.20" font-size="5.50" fill="#111" textLength="12.84" lengthAdjust="spacingAndGlyphs">2.85</text>
<text x="30.31" y="141.70" font-size="5.50" fill="#111" textLength="11.37" lengthAdjust="spacingAndGlyphs">-0.2</text>
<text x="63.51" y="141.70" font-size="5.50" fill="#111" textLength="11.37" lengthAdjust="spacingAndGlyphs">-0.1</text>
<text x="100.57" y="141.70" font-size="5.50" fill="#111" textLength="3.67" lengthAdjust="spacingAndGlyphs">0</text>
<text x="131.01" y="141.70" font-size="5.50" fill="#111" textLength="9.17" lengthAdjust="spacingAndGlyphs">0.1</text>
<text x="164.21" y="141.70" font-size="5.50" fill="#111" textLength="9.17" lengthAdjust="spacingAndGlyphs">0.2</text>
<text x="83.90" y="153.10" font-size="8.70" fill="#111" textLength="37.20" lengthAdjust="spacingAndGlyphs">q<tspan dy="2.61" font-size="6.79">ang</tspan><tspan dy="-2.61"> [A</tspan><tspan dy="-3.13" font-size="5.92">-1</tspan><tspan dy="3.13">]</tspan></text>
<text transform="translate(14.10 90.50) rotate(-90)" font-size="8.70" fill="#111" textLength="33.70" lengthAdjust="spacingAndGlyphs">q<tspan dy="2.61" font-size="6.79">rad</tspan><tspan dy="-2.61"> [A</tspan><tspan dy="-3.13" font-size="5.92">-1</tspan><tspan dy="3.13">]</tspan></text>
<text x="195.16" y="13.80" font-size="5.50" fill="#111" textLength="12.84" lengthAdjust="spacingAndGlyphs">3.25</text>
<text x="198.83" y="29.24" font-size="5.50" fill="#111" textLength="9.17" lengthAdjust="spacingAndGlyphs">3.2</text>
<text x="195.16" y="44.68" font-size="5.50" fill="#111" textLength="12.84" lengthAdjust="spacingAndGlyphs">3.15</text>
<text x="198.83" y="60.11" font-size="5.50" fill="#111" textLength="9.17" lengthAdjust="spacingAndGlyphs">3.1</text>
<text x="195.16" y="75.55" font-size="5.50" fill="#111" textLength="12.84" lengthAdjust="spacingAndGlyphs">3.05</text>
<text x="204.33" y="90.99" font-size="5.50" fill="#111" textLength="3.67" lengthAdjust="spacingAndGlyphs">3</text>
<text x="195.16" y="106.42" font-size="5.50" fill="#111" textLength="12.84" lengthAdjust="spacingAndGlyphs">2.95</text>
<text x="198.83" y="121.86" font-size="5.50" fill="#111" textLength="9.17" lengthAdjust="spacingAndGlyphs">2.9</text>
<text x="195.16" y="137.30" font-size="5.50" fill="#111" textLength="12.84" lengthAdjust="spacingAndGlyphs">2.85</text>
<text x="203.51" y="141.80" font-size="5.50" fill="#111" textLength="11.37" lengthAdjust="spacingAndGlyphs">-0.2</text>
<text x="235.94" y="141.80" font-size="5.50" fill="#111" textLength="11.37" lengthAdjust="spacingAndGlyphs">-0.1</text>
<text x="272.22" y="141.80" font-size="5.50" fill="#111" textLength="3.67" lengthAdjust="spacingAndGlyphs">0</text>
<text x="301.89" y="141.80" font-size="5.50" fill="#111" textLength="9.17" lengthAdjust="spacingAndGlyphs">0.1</text>
<text x="334.31" y="141.80" font-size="5.50" fill="#111" textLength="9.17" lengthAdjust="spacingAndGlyphs">0.2</text>
<text x="255.55" y="153.20" font-size="8.70" fill="#111" textLength="37.20" lengthAdjust="spacingAndGlyphs">q<tspan dy="2.61" font-size="6.79">ang</tspan><tspan dy="-2.61"> [A</tspan><tspan dy="-3.13" font-size="5.92">-1</tspan><tspan dy="3.13">]</tspan></text>
<text transform="translate(187.30 90.45) rotate(-90)" font-size="8.70" fill="#111" textLength="33.70" lengthAdjust="spacingAndGlyphs">q<tspan dy="2.61" font-size="6.79">rad</tspan><tspan dy="-2.61"> [A</tspan><tspan dy="-3.13" font-size="5.92">-1</tspan><tspan dy="3.13">]</tspan></text>
<text x="360.16" y="15.30" font-size="5.50" fill="#111" textLength="12.84" lengthAdjust="spacingAndGlyphs">3.25</text>
<text x="363.83" y="30.51" font-size="5.50" fill="#111" textLength="9.17" lengthAdjust="spacingAndGlyphs">3.2</text>
<text x="360.16" y="45.73" font-size="5.50" fill="#111" textLength="12.84" lengthAdjust="spacingAndGlyphs">3.15</text>
<text x="363.83" y="60.94" font-size="5.50" fill="#111" textLength="9.17" lengthAdjust="spacingAndGlyphs">3.1</text>
<text x="360.16" y="76.15" font-size="5.50" fill="#111" textLength="12.84" lengthAdjust="spacingAndGlyphs">3.05</text>
<text x="369.33" y="91.36" font-size="5.50" fill="#111" textLength="3.67" lengthAdjust="spacingAndGlyphs">3</text>
<text x="360.16" y="106.58" font-size="5.50" fill="#111" textLength="12.84" lengthAdjust="spacingAndGlyphs">2.95</text>
<text x="363.83" y="121.79" font-size="5.50" fill="#111" textLength="9.17" lengthAdjust="spacingAndGlyphs">2.9</text>
<text x="360.16" y="137.00" font-size="5.50" fill="#111" textLength="12.84" lengthAdjust="spacingAndGlyphs">2.85</text>
<text x="368.51" y="141.50" font-size="5.50" fill="#111" textLength="11.37" lengthAdjust="spacingAndGlyphs">-0.2</text>
<text x="400.84" y="141.50" font-size="5.50" fill="#111" textLength="11.37" lengthAdjust="spacingAndGlyphs">-0.1</text>
<text x="437.02" y="141.50" font-size="5.50" fill="#111" textLength="3.67" lengthAdjust="spacingAndGlyphs">0</text>
<text x="466.59" y="141.50" font-size="5.50" fill="#111" textLength="9.17" lengthAdjust="spacingAndGlyphs">0.1</text>
<text x="498.91" y="141.50" font-size="5.50" fill="#111" textLength="9.17" lengthAdjust="spacingAndGlyphs">0.2</text>
<text x="420.35" y="152.90" font-size="8.70" fill="#111" textLength="37.20" lengthAdjust="spacingAndGlyphs">q<tspan dy="2.61" font-size="6.79">ang</tspan><tspan dy="-2.61"> [A</tspan><tspan dy="-3.13" font-size="5.92">-1</tspan><tspan dy="3.13">]</tspan></text>
<text transform="translate(352.30 91.05) rotate(-90)" font-size="8.70" fill="#111" textLength="33.70" lengthAdjust="spacingAndGlyphs">q<tspan dy="2.61" font-size="6.79">rad</tspan><tspan dy="-2.61"> [A</tspan><tspan dy="-3.13" font-size="5.92">-1</tspan><tspan dy="3.13">]</tspan></text>
<text x="529.36" y="15.30" font-size="5.50" fill="#111" textLength="12.84" lengthAdjust="spacingAndGlyphs">3.25</text>
<text x="533.03" y="30.53" font-size="5.50" fill="#111" textLength="9.17" lengthAdjust="spacingAndGlyphs">3.2</text>
<text x="529.36" y="45.75" font-size="5.50" fill="#111" textLength="12.84" lengthAdjust="spacingAndGlyphs">3.15</text>
<text x="533.03" y="60.98" font-size="5.50" fill="#111" textLength="9.17" lengthAdjust="spacingAndGlyphs">3.1</text>
<text x="529.36" y="76.20" font-size="5.50" fill="#111" textLength="12.84" lengthAdjust="spacingAndGlyphs">3.05</text>
<text x="538.53" y="91.42" font-size="5.50" fill="#111" textLength="3.67" lengthAdjust="spacingAndGlyphs">3</text>
<text x="529.36" y="106.65" font-size="5.50" fill="#111" textLength="12.84" lengthAdjust="spacingAndGlyphs">2.95</text>
<text x="533.03" y="121.88" font-size="5.50" fill="#111" textLength="9.17" lengthAdjust="spacingAndGlyphs">2.9</text>
<text x="529.36" y="137.10" font-size="5.50" fill="#111" textLength="12.84" lengthAdjust="spacingAndGlyphs">2.85</text>
<text x="537.71" y="141.60" font-size="5.50" fill="#111" textLength="11.37" lengthAdjust="spacingAndGlyphs">-0.2</text>
<text x="569.89" y="141.60" font-size="5.50" fill="#111" textLength="11.37" lengthAdjust="spacingAndGlyphs">-0.1</text>
<text x="605.92" y="141.60" font-size="5.50" fill="#111" textLength="3.67" lengthAdjust="spacingAndGlyphs">0</text>
<text x="635.34" y="141.60" font-size="5.50" fill="#111" textLength="9.17" lengthAdjust="spacingAndGlyphs">0.1</text>
<text x="667.51" y="141.60" font-size="5.50" fill="#111" textLength="9.17" lengthAdjust="spacingAndGlyphs">0.2</text>
<text x="589.25" y="153.00" font-size="8.70" fill="#111" textLength="37.20" lengthAdjust="spacingAndGlyphs">q<tspan dy="2.61" font-size="6.79">ang</tspan><tspan dy="-2.61"> [A</tspan><tspan dy="-3.13" font-size="5.92">-1</tspan><tspan dy="3.13">]</tspan></text>
<text transform="translate(521.50 91.10) rotate(-90)" font-size="8.70" fill="#111" textLength="33.70" lengthAdjust="spacingAndGlyphs">q<tspan dy="2.61" font-size="6.79">rad</tspan><tspan dy="-2.61"> [A</tspan><tspan dy="-3.13" font-size="5.92">-1</tspan><tspan dy="3.13">]</tspan></text>
<text x="59.10" y="21.10" font-size="11.00" fill="#000" textLength="73.20" lengthAdjust="spacingAndGlyphs">As-deposited</text>
<text x="143.70" y="21.10" font-size="11.00" fill="#000" textLength="17.00" lengthAdjust="spacingAndGlyphs">RT</text>
<text x="132.00" y="36.40" font-size="11.00" fill="#000" textLength="33.60" lengthAdjust="spacingAndGlyphs">BSTO</text>
<text x="124.10" y="95.20" font-size="11.00" fill="#000" textLength="25.80" lengthAdjust="spacingAndGlyphs">MgO</text>
<text x="119.80" y="132.40" font-size="11.00" fill="#000" textLength="44.40" lengthAdjust="spacingAndGlyphs">XRD002</text>
<text x="248.00" y="23.30" font-size="11.00" fill="#000" textLength="18.30" lengthAdjust="spacingAndGlyphs">900</text>
<text x="271.00" y="17.60" font-size="6.50" fill="#000" textLength="3.60" lengthAdjust="spacingAndGlyphs">o</text>
<text x="275.50" y="23.30" font-size="11.00" fill="#000" textLength="36.80" lengthAdjust="spacingAndGlyphs">C heat</text>
<text x="290.80" y="132.20" font-size="11.00" fill="#000" textLength="44.60" lengthAdjust="spacingAndGlyphs">XRD002</text>
<text x="418.80" y="24.40" font-size="11.00" fill="#000" textLength="82.00" lengthAdjust="spacingAndGlyphs">900 °C 180 min</text>
<text x="454.30" y="131.30" font-size="11.00" fill="#000" textLength="44.30" lengthAdjust="spacingAndGlyphs">XRD002</text>
<text x="558.30" y="22.20" font-size="11.00" fill="#000" textLength="80.80" lengthAdjust="spacingAndGlyphs">Post-annealed</text>
<text x="648.50" y="22.20" font-size="11.00" fill="#000" textLength="15.80" lengthAdjust="spacingAndGlyphs">RT</text>
<text x="636.30" y="38.00" font-size="11.00" fill="#000" textLength="33.50" lengthAdjust="spacingAndGlyphs">BSTO</text>
<text x="636.30" y="68.10" font-size="11.00" fill="#000" textLength="33.50" lengthAdjust="spacingAndGlyphs">BSTO</text>
<text x="628.80" y="93.40" font-size="11.00" fill="#000" textLength="26.00" lengthAdjust="spacingAndGlyphs">MgO</text>
<text x="623.90" y="130.80" font-size="11.00" fill="#000" textLength="44.30" lengthAdjust="spacingAndGlyphs">XRD002</text>
<rect x="36.00" y="191.70" width="132.20" height="118.80" fill="#0000ff"/>
<g clip-path="url(#c5)"><g filter="url(#spd)"><ellipse cx="102.00" cy="262.00" rx="110.00" ry="80.00" fill="url(#g36)" transform="rotate(-21 102.00 262.00)"/></g></g>
<g clip-path="url(#c5)"><g filter="url(#hzb)"><ellipse cx="105.50" cy="260.50" rx="62.00" ry="27.00" fill="url(#g37)" transform="rotate(-21 105.50 260.50)"/></g></g>
<g clip-path="url(#c5)"><g filter="url(#spb)"><ellipse cx="105.50" cy="260.50" rx="74.00" ry="32.00" fill="url(#g38)" transform="rotate(-21 105.50 260.50)"/></g></g>
<g clip-path="url(#c5)"><g filter="url(#r6)"><g transform="rotate(-19.5 106.20 260.00)">
<ellipse cx="106.20" cy="260.00" rx="39.50" ry="16.30" fill="#ff0000" />
</g></g></g>
<g clip-path="url(#c5)"><g filter="url(#r1)"><g transform="rotate(-19.5 106.40 259.90)">
<ellipse cx="104.80" cy="259.90" rx="33.60" ry="13.44" fill="#ff0000" />
<ellipse cx="104.96" cy="259.90" rx="30.24" ry="12.10" fill="#ffff00" />
<ellipse cx="105.13" cy="259.90" rx="26.59" ry="10.63" fill="#00ff00" />
<ellipse cx="105.29" cy="259.90" rx="23.39" ry="9.36" fill="#0000ff" />
<ellipse cx="105.39" cy="259.90" rx="21.21" ry="8.48" fill="#ff00ff" />
<ellipse cx="105.44" cy="259.90" rx="20.16" ry="8.06" fill="#ff0000" />
<ellipse cx="105.62" cy="259.90" rx="16.30" ry="6.52" fill="#ffff00" />
<ellipse cx="105.76" cy="259.90" rx="13.40" ry="5.36" fill="#00ff00" />
<ellipse cx="105.89" cy="259.90" rx="10.79" ry="4.32" fill="#0000ff" />
<ellipse cx="106.07" cy="259.90" rx="7.01" ry="2.81" fill="#9000ff" />
</g></g></g>
<line x1="36.00" y1="292.10" x2="166.30" y2="232.90" stroke="#000" stroke-opacity="0.85" stroke-width="0.90" stroke-dasharray="2.4 2.4"/>
<rect x="207.00" y="190.80" width="133.20" height="118.90" fill="#0000ff"/>
<g clip-path="url(#c6)"><g filter="url(#hzb)"><ellipse cx="273.50" cy="221.00" rx="88.00" ry="24.00" fill="url(#g39)"/></g></g>
<g clip-path="url(#c6)"><g filter="url(#spb)"><ellipse cx="273.50" cy="221.00" rx="88.00" ry="26.00" fill="url(#g40)"/></g></g>
<g clip-path="url(#c6)"><g filter="url(#hzb)"><ellipse cx="273.50" cy="252.00" rx="46.00" ry="15.00" fill="url(#g41)" transform="rotate(38 273.50 252.00)"/></g></g>
<g clip-path="url(#c6)"><g filter="url(#hzb)"><ellipse cx="273.50" cy="252.00" rx="46.00" ry="15.00" fill="url(#g42)" transform="rotate(-38 273.50 252.00)"/></g></g>
<g clip-path="url(#c6)"><g filter="url(#spb)"><ellipse cx="273.50" cy="255.00" rx="40.00" ry="40.00" fill="url(#g43)"/></g></g>
<g clip-path="url(#c6)">
<g filter="url(#r1)">
<path d="M191.30 220.40Q273.30 213.60 355.30 220.40Q273.30 227.20 191.30 220.40Z" fill="url(#g44)" />
<path d="M229.80 220.40Q273.30 193.00 316.80 220.40Q273.30 247.80 229.80 220.40Z" fill="#a000ff" />
<path d="M231.50 220.40Q273.30 194.00 315.10 220.40Q273.30 246.80 231.50 220.40Z" fill="#ff00c0" />
<path d="M193.30 220.40Q273.30 216.00 353.30 220.40Q273.30 224.80 193.30 220.40Z" fill="url(#g45)" />
<path d="M233.30 220.40Q273.30 194.80 313.30 220.40Q273.30 246.00 233.30 220.40Z" fill="#ff0000" />
<ellipse cx="273.30" cy="220.40" rx="28.80" ry="12.29" fill="#ff0000" />
<path d="M241.30 220.40Q273.30 202.60 305.30 220.40Q273.30 238.20 241.30 220.40Z" fill="#ffff00" />
<ellipse cx="273.30" cy="220.40" rx="23.04" ry="8.54" fill="#ffff00" />
<path d="M244.30 220.40Q273.30 205.40 302.30 220.40Q273.30 235.40 244.30 220.40Z" fill="#00ff00" />
<ellipse cx="273.30" cy="220.40" rx="20.88" ry="7.20" fill="#00ff00" />
<path d="M247.80 220.40Q273.30 207.00 298.80 220.40Q273.30 233.80 247.80 220.40Z" fill="#0000ff" />
<ellipse cx="273.30" cy="220.40" rx="18.36" ry="6.43" fill="#0000ff" />
<path d="M250.10 220.40Q273.30 208.40 296.50 220.40Q273.30 232.40 250.10 220.40Z" fill="#ff00ff" />
<ellipse cx="273.30" cy="220.40" rx="19.95" ry="5.58" fill="#ff00ff" />
<path d="M251.00 220.40Q273.30 209.00 295.60 220.40Q273.30 231.80 251.00 220.40Z" fill="#ff0000" />
<ellipse cx="273.30" cy="220.40" rx="19.18" ry="5.30" fill="#ff0000" />
<path d="M254.00 220.40Q273.30 211.00 292.60 220.40Q273.30 229.80 254.00 220.40Z" fill="#ffff00" />
<ellipse cx="273.30" cy="220.40" rx="16.60" ry="4.37" fill="#ffff00" />
<path d="M256.60 220.40Q273.30 212.60 290.00 220.40Q273.30 228.20 256.60 220.40Z" fill="#00ff00" />
<ellipse cx="273.30" cy="220.40" rx="14.36" ry="3.63" fill="#00ff00" />
<path d="M259.00 220.40Q273.30 213.80 287.60 220.40Q273.30 227.00 259.00 220.40Z" fill="#0000ff" />
<ellipse cx="273.30" cy="220.40" rx="12.30" ry="3.07" fill="#0000ff" />
<path d="M260.90 220.40Q273.30 214.90 285.70 220.40Q273.30 225.90 260.90 220.40Z" fill="#ff00ff" />
<ellipse cx="273.30" cy="220.40" rx="10.66" ry="2.56" fill="#ff00ff" />
<path d="M261.70 220.40Q273.30 215.40 284.90 220.40Q273.30 225.40 261.70 220.40Z" fill="#ff0000" />
<ellipse cx="273.30" cy="220.40" rx="9.98" ry="2.33" fill="#ff0000" />
<path d="M264.80 220.40Q273.30 216.60 281.80 220.40Q273.30 224.20 264.80 220.40Z" fill="#ffff00" />
<ellipse cx="273.30" cy="220.40" rx="7.31" ry="1.77" fill="#ffff00" />
<path d="M266.30 220.40Q273.30 217.40 280.30 220.40Q273.30 223.40 266.30 220.40Z" fill="#00ff00" />
<ellipse cx="273.30" cy="220.40" rx="6.02" ry="1.40" fill="#00ff00" />
<path d="M267.80 220.40Q273.30 218.20 278.80 220.40Q273.30 222.60 267.80 220.40Z" fill="#0000ff" />
<ellipse cx="273.30" cy="220.40" rx="4.73" ry="1.02" fill="#0000ff" />
<path d="M269.70 220.40Q273.30 218.80 276.90 220.40Q273.30 222.00 269.70 220.40Z" fill="#ff00ff" />
<ellipse cx="273.30" cy="220.40" rx="3.10" ry="0.74" fill="#ff00ff" />
<path d="M271.10 220.40Q273.30 219.40 275.50 220.40Q273.30 221.40 271.10 220.40Z" fill="#ff0000" />
<ellipse cx="273.30" cy="220.40" rx="1.89" ry="0.47" fill="#ff0000" />
</g></g>
<g clip-path="url(#c6)"><g filter="url(#hzb)"><ellipse cx="276.00" cy="279.00" rx="56.00" ry="40.00" fill="url(#g46)"/></g></g>
<g clip-path="url(#c6)"><g filter="url(#spb)"><ellipse cx="278.00" cy="279.00" rx="66.00" ry="46.00" fill="url(#g47)"/></g></g>
<g clip-path="url(#c6)">
<g filter="url(#r2)">
<ellipse cx="273.60" cy="279.00" rx="22.50" ry="21.50" fill="#7000ff" opacity="0.75"/>
<ellipse cx="273.60" cy="279.00" rx="21.00" ry="20.00" fill="#d000ff" />
<path d="M220.60 279.00Q262.47 277.11 273.60 270.00Q277.80 277.11 293.60 279.00Q277.80 280.89 273.60 288.00Q262.47 280.89 220.60 279.00Z" fill="#c000ff" />
</g><g filter="url(#r1)">
<ellipse cx="273.60" cy="279.00" rx="19.80" ry="18.80" fill="#ff0000" />
<path d="M222.60 279.00Q262.89 277.40 273.60 271.40Q277.91 277.40 294.10 279.00Q277.91 280.60 273.60 286.60Q262.89 280.60 222.60 279.00Z" fill="#ff0000" />
<path d="M227.60 279.00Q263.94 277.82 273.60 273.40Q277.63 277.82 292.80 279.00Q277.63 280.18 273.60 284.60Q263.94 280.18 227.60 279.00Z" fill="#ffff00" />
<path d="M258.10 279.00Q261.98 267.00 273.60 263.00Q288.00 267.00 292.80 279.00Q288.00 291.00 273.60 295.00Q261.98 291.00 258.10 279.00Z" fill="#ffff00" />
<path d="M235.60 279.00Q265.62 278.24 273.60 275.40Q277.38 278.24 291.60 279.00Q277.38 279.76 273.60 282.60Q265.62 279.76 235.60 279.00Z" fill="#00ff00" />
<path d="M259.80 279.00Q263.80 268.35 273.60 264.00Q286.38 268.35 291.60 279.00Q286.38 289.65 273.60 294.00Q263.80 289.65 259.80 279.00Z" fill="#00ff00" />
<path d="M248.60 279.00Q268.35 278.54 273.60 276.80Q277.17 278.54 290.60 279.00Q277.17 279.46 273.60 281.20Q268.35 279.46 248.60 279.00Z" fill="#0000ff" />
<path d="M261.10 279.00Q265.35 269.76 273.60 265.00Q284.82 269.76 290.60 279.00Q284.82 288.24 273.60 293.00Q265.35 288.24 261.10 279.00Z" fill="#0000ff" />
<path d="M262.30 279.00Q267.10 271.52 273.60 266.00Q282.80 271.52 289.60 279.00Q282.80 286.48 273.60 292.00Q267.10 286.48 262.30 279.00Z" fill="#ff00ff" />
<path d="M252.60 279.00Q269.19 278.69 273.60 277.50Q276.79 278.69 288.80 279.00Q276.79 279.31 273.60 280.50Q269.19 279.31 252.60 279.00Z" fill="#ff0000" />
<path d="M263.10 279.00Q268.35 272.85 273.60 266.70Q281.20 272.85 288.80 279.00Q281.20 285.15 273.60 291.30Q268.35 285.15 263.10 279.00Z" fill="#ff0000" />
<path d="M255.60 279.00Q269.82 278.79 273.60 278.00Q276.44 278.79 287.10 279.00Q276.44 279.21 273.60 280.00Q269.82 279.21 255.60 279.00Z" fill="#ffff00" />
<path d="M264.60 279.00Q269.55 274.27 273.60 268.50Q279.68 274.27 287.10 279.00Q279.68 283.73 273.60 289.50Q269.55 283.73 264.60 279.00Z" fill="#ffff00" />
<path d="M265.60 279.00Q270.40 275.32 273.60 269.80Q278.52 275.32 285.90 279.00Q278.52 282.68 273.60 288.20Q270.40 282.68 265.60 279.00Z" fill="#00ff00" />
<path d="M266.60 279.00Q270.98 276.00 273.60 271.00Q277.73 276.00 284.60 279.00Q277.73 282.00 273.60 287.00Q270.98 282.00 266.60 279.00Z" fill="#0000ff" />
<path d="M267.40 279.00Q271.43 276.55 273.60 272.00Q277.10 276.55 283.60 279.00Q277.10 281.45 273.60 286.00Q271.43 281.45 267.40 279.00Z" fill="#ff00ff" />
<path d="M268.10 279.00Q271.68 276.83 273.60 272.80Q276.75 276.83 282.60 279.00Q276.75 281.17 273.60 285.20Q271.68 281.17 268.10 279.00Z" fill="#ff0000" />
<path d="M269.10 279.00Q272.03 277.25 273.60 274.00Q276.23 277.25 281.10 279.00Q276.23 280.75 273.60 284.00Q272.03 280.75 269.10 279.00Z" fill="#ffff00" />
<path d="M269.80 279.00Q272.27 277.60 273.60 275.00Q275.81 277.60 279.90 279.00Q275.81 280.40 273.60 283.00Q272.27 280.40 269.80 279.00Z" fill="#00ff00" />
<path d="M270.60 279.00Q272.55 277.95 273.60 276.00Q275.35 277.95 278.60 279.00Q275.35 280.05 273.60 282.00Q272.55 280.05 270.60 279.00Z" fill="#0000ff" />
<path d="M271.40 279.00Q272.72 278.12 273.60 276.80Q275.12 278.12 277.40 279.00Q275.12 279.88 273.60 281.20Q272.72 279.88 271.40 279.00Z" fill="#ff00ff" />
<path d="M272.20 279.00Q272.97 278.37 273.60 277.60Q274.68 278.37 276.00 279.00Q274.68 279.63 273.60 280.40Q272.97 279.63 272.20 279.00Z" fill="#ff0000" />
</g></g>
<g clip-path="url(#c6)"><line x1="265.60" y1="231.00" x2="278.50" y2="309.80" stroke="#ff2000" stroke-width="1.70" stroke-opacity="1.00" filter="url(#soft)"/></g>
<g clip-path="url(#c6)"><line x1="265.80" y1="231.00" x2="278.70" y2="309.80" stroke="#e0ff00" stroke-width="0.55" stroke-opacity="1.00" filter="url(#soft)"/></g>
<line x1="273.60" y1="190.80" x2="273.60" y2="309.70" stroke="#000" stroke-opacity="0.85" stroke-width="0.90" stroke-dasharray="2.4 2.4"/>
<rect x="374.10" y="190.10" width="135.10" height="119.40" fill="#0000ff"/>
<g clip-path="url(#c7)"><g filter="url(#spb)"><ellipse cx="441.40" cy="230.60" rx="42.00" ry="20.00" fill="url(#g48)"/></g></g>
<g clip-path="url(#c7)"><g filter="url(#r1)"><g transform="rotate(0 441.40 230.60)">
<ellipse cx="441.40" cy="230.60" rx="28.80" ry="11.09" fill="#ff0000" />
<ellipse cx="441.40" cy="230.60" rx="26.78" ry="10.31" fill="#ffff00" />
<ellipse cx="441.40" cy="230.60" rx="25.29" ry="9.74" fill="#00ff00" />
<ellipse cx="441.40" cy="230.60" rx="24.08" ry="9.27" fill="#0000ff" />
<ellipse cx="441.40" cy="230.60" rx="22.18" ry="8.54" fill="#ff00ff" />
<ellipse cx="441.40" cy="230.60" rx="21.60" ry="8.32" fill="#ff0000" />
<ellipse cx="441.40" cy="230.60" rx="19.93" ry="7.67" fill="#ffff00" />
<ellipse cx="441.40" cy="230.60" rx="18.52" ry="7.13" fill="#00ff00" />
<ellipse cx="441.40" cy="230.60" rx="17.51" ry="6.74" fill="#0000ff" />
<ellipse cx="441.40" cy="230.60" rx="15.41" ry="5.93" fill="#ff00ff" />
<ellipse cx="441.40" cy="230.60" rx="14.80" ry="5.70" fill="#ff0000" />
<ellipse cx="441.40" cy="230.60" rx="12.79" ry="4.92" fill="#ffff00" />
<ellipse cx="441.40" cy="230.60" rx="11.52" ry="4.44" fill="#00ff00" />
<ellipse cx="441.40" cy="230.60" rx="10.28" ry="3.96" fill="#0000ff" />
<ellipse cx="441.40" cy="230.60" rx="8.64" ry="3.33" fill="#ff00ff" />
<ellipse cx="441.40" cy="230.60" rx="8.27" ry="3.18" fill="#ff0000" />
<ellipse cx="441.40" cy="230.60" rx="5.76" ry="2.22" fill="#ff6000" />
<ellipse cx="441.40" cy="230.60" rx="4.03" ry="1.55" fill="#ffc000" />
<ellipse cx="441.40" cy="230.60" rx="2.02" ry="0.78" fill="#ffff40" />
</g></g></g>
<line x1="441.40" y1="190.10" x2="441.40" y2="309.50" stroke="#000" stroke-opacity="0.85" stroke-width="0.90" stroke-dasharray="2.4 2.4"/>
<rect x="545.60" y="190.70" width="132.60" height="118.60" fill="#0000ff"/>
<g clip-path="url(#c8)"><g filter="url(#hzr)"><ellipse cx="611.40" cy="259.50" rx="36.00" ry="44.00" fill="url(#g49)"/></g></g>
<g clip-path="url(#c8)"><g filter="url(#spr)"><ellipse cx="611.40" cy="259.00" rx="72.00" ry="78.00" fill="url(#g50)"/></g></g>
<g clip-path="url(#c8)">
<ellipse cx="611.40" cy="259.80" rx="22.00" ry="26.00" fill="url(#g51)" filter="url(#r6)"/>
</g>
<g clip-path="url(#c8)"><g filter="url(#r4)"><g transform="rotate(0 611.40 258.10)">
<ellipse cx="611.40" cy="259.90" rx="15.60" ry="17.20" fill="#ff6000" />
<ellipse cx="611.40" cy="259.90" rx="14.20" ry="15.70" fill="#ffff00" />
<ellipse cx="611.40" cy="258.90" rx="11.20" ry="12.30" fill="#00ff00" />
<ellipse cx="611.40" cy="258.40" rx="9.40" ry="10.30" fill="#0000ff" />
<ellipse cx="611.40" cy="258.10" rx="6.70" ry="7.50" fill="#ff00ff" />
<ellipse cx="611.40" cy="258.10" rx="4.40" ry="5.00" fill="#ff0070" />
<ellipse cx="611.40" cy="258.10" rx="3.00" ry="3.50" fill="#ff0000" />
</g></g></g>
<line x1="611.40" y1="190.70" x2="611.40" y2="309.30" stroke="#000" stroke-opacity="0.85" stroke-width="0.90" stroke-dasharray="2.4 2.4"/>
<rect x="36.20" y="354.60" width="132.70" height="117.40" fill="#0000ff"/>
<g clip-path="url(#c9)"><g filter="url(#spd)"><ellipse cx="105.00" cy="421.00" rx="110.00" ry="80.00" fill="url(#g52)" transform="rotate(-19 105.00 421.00)"/></g></g>
<g clip-path="url(#c9)"><g filter="url(#hzb)"><ellipse cx="110.50" cy="419.30" rx="58.00" ry="28.00" fill="url(#g53)" transform="rotate(-19 110.50 419.30)"/></g></g>
<g clip-path="url(#c9)"><g filter="url(#spb)"><ellipse cx="110.50" cy="419.30" rx="70.00" ry="34.00" fill="url(#g54)" transform="rotate(-19 110.50 419.30)"/></g></g>
<g clip-path="url(#c9)"><g filter="url(#r6)"><g transform="rotate(-18.7 111.00 419.00)">
<ellipse cx="111.00" cy="419.00" rx="35.00" ry="14.30" fill="#ff0000" />
</g></g></g>
<g clip-path="url(#c9)"><g filter="url(#r1)"><g transform="rotate(-18.7 111.10 418.90)">
<ellipse cx="111.10" cy="418.90" rx="28.50" ry="11.40" fill="#ff0000" />
<ellipse cx="111.10" cy="418.90" rx="24.75" ry="9.90" fill="#ffff00" />
<ellipse cx="111.10" cy="418.90" rx="22.31" ry="8.93" fill="#00ff00" />
<ellipse cx="111.10" cy="418.90" rx="19.31" ry="7.73" fill="#0000ff" />
<ellipse cx="111.10" cy="418.90" rx="16.88" ry="6.75" fill="#ff00ff" />
<ellipse cx="111.10" cy="418.90" rx="15.00" ry="6.00" fill="#ff0060" />
<ellipse cx="111.10" cy="418.90" rx="12.38" ry="4.95" fill="#ff0000" />
<ellipse cx="111.10" cy="418.90" rx="7.50" ry="3.00" fill="#ff5000" />
<ellipse cx="111.10" cy="418.90" rx="3.75" ry="1.50" fill="#ff9000" />
</g></g></g>
<line x1="36.20" y1="453.40" x2="167.30" y2="394.20" stroke="#000" stroke-opacity="0.85" stroke-width="0.90" stroke-dasharray="2.4 2.4"/>
<rect x="207.00" y="354.10" width="133.00" height="117.50" fill="#0000ff"/>
<g clip-path="url(#c10)"><g filter="url(#hzb)"><ellipse cx="273.50" cy="382.00" rx="88.00" ry="24.00" fill="url(#g55)"/></g></g>
<g clip-path="url(#c10)"><g filter="url(#spb)"><ellipse cx="273.50" cy="382.00" rx="88.00" ry="26.00" fill="url(#g56)"/></g></g>
<g clip-path="url(#c10)"><g filter="url(#hzb)"><ellipse cx="273.50" cy="413.00" rx="46.00" ry="15.00" fill="url(#g57)" transform="rotate(38 273.50 413.00)"/></g></g>
<g clip-path="url(#c10)"><g filter="url(#hzb)"><ellipse cx="273.50" cy="413.00" rx="46.00" ry="15.00" fill="url(#g58)" transform="rotate(-38 273.50 413.00)"/></g></g>
<g clip-path="url(#c10)"><g filter="url(#spb)"><ellipse cx="273.50" cy="417.00" rx="40.00" ry="40.00" fill="url(#g59)"/></g></g>
<g clip-path="url(#c10)">
<g filter="url(#r1)">
<path d="M191.40 382.30Q273.40 375.50 355.40 382.30Q273.40 389.10 191.40 382.30Z" fill="url(#g60)" />
<path d="M236.42 382.30Q273.40 356.82 310.38 382.30Q273.40 407.78 236.42 382.30Z" fill="#a000ff" />
<path d="M237.87 382.30Q273.40 357.75 308.93 382.30Q273.40 406.85 237.87 382.30Z" fill="#ff00c0" />
<path d="M193.40 382.30Q273.40 377.90 353.40 382.30Q273.40 386.70 193.40 382.30Z" fill="url(#g61)" />
<path d="M239.40 382.30Q273.40 358.49 307.40 382.30Q273.40 406.11 239.40 382.30Z" fill="#ff0000" />
<ellipse cx="273.40" cy="382.30" rx="24.48" ry="11.43" fill="#ff0000" />
<path d="M246.20 382.30Q273.40 365.75 300.60 382.30Q273.40 398.85 246.20 382.30Z" fill="#ffff00" />
<ellipse cx="273.40" cy="382.30" rx="19.58" ry="7.95" fill="#ffff00" />
<path d="M248.75 382.30Q273.40 368.35 298.05 382.30Q273.40 396.25 248.75 382.30Z" fill="#00ff00" />
<ellipse cx="273.40" cy="382.30" rx="17.75" ry="6.70" fill="#00ff00" />
<path d="M251.72 382.30Q273.40 369.84 295.07 382.30Q273.40 394.76 251.72 382.30Z" fill="#0000ff" />
<ellipse cx="273.40" cy="382.30" rx="15.61" ry="5.98" fill="#0000ff" />
<path d="M253.68 382.30Q273.40 371.14 293.12 382.30Q273.40 393.46 253.68 382.30Z" fill="#ff00ff" />
<ellipse cx="273.40" cy="382.30" rx="16.96" ry="5.19" fill="#ff00ff" />
<path d="M254.44 382.30Q273.40 371.70 292.35 382.30Q273.40 392.90 254.44 382.30Z" fill="#ff0000" />
<ellipse cx="273.40" cy="382.30" rx="16.30" ry="4.93" fill="#ff0000" />
<path d="M257.00 382.30Q273.40 373.56 289.80 382.30Q273.40 391.04 257.00 382.30Z" fill="#ffff00" />
<ellipse cx="273.40" cy="382.30" rx="14.11" ry="4.07" fill="#ffff00" />
<path d="M259.20 382.30Q273.40 375.05 287.59 382.30Q273.40 389.55 259.20 382.30Z" fill="#00ff00" />
<ellipse cx="273.40" cy="382.30" rx="12.21" ry="3.37" fill="#00ff00" />
<path d="M261.25 382.30Q273.40 376.16 285.55 382.30Q273.40 388.44 261.25 382.30Z" fill="#0000ff" />
<ellipse cx="273.40" cy="382.30" rx="10.45" ry="2.85" fill="#0000ff" />
<path d="M262.86 382.30Q273.40 377.19 283.94 382.30Q273.40 387.42 262.86 382.30Z" fill="#ff00ff" />
<ellipse cx="273.40" cy="382.30" rx="9.06" ry="2.38" fill="#ff00ff" />
<path d="M263.54 382.30Q273.40 377.65 283.26 382.30Q273.40 386.95 263.54 382.30Z" fill="#ff0000" />
<ellipse cx="273.40" cy="382.30" rx="8.48" ry="2.16" fill="#ff0000" />
<path d="M266.17 382.30Q273.40 378.77 280.62 382.30Q273.40 385.83 266.17 382.30Z" fill="#ffff00" />
<ellipse cx="273.40" cy="382.30" rx="6.21" ry="1.64" fill="#ffff00" />
<path d="M267.45 382.30Q273.40 379.51 279.35 382.30Q273.40 385.09 267.45 382.30Z" fill="#00ff00" />
<ellipse cx="273.40" cy="382.30" rx="5.12" ry="1.30" fill="#00ff00" />
<path d="M268.72 382.30Q273.40 380.25 278.07 382.30Q273.40 384.35 268.72 382.30Z" fill="#0000ff" />
<ellipse cx="273.40" cy="382.30" rx="4.02" ry="0.95" fill="#0000ff" />
<path d="M270.34 382.30Q273.40 380.81 276.46 382.30Q273.40 383.79 270.34 382.30Z" fill="#ff00ff" />
<ellipse cx="273.40" cy="382.30" rx="2.63" ry="0.69" fill="#ff00ff" />
<path d="M271.53 382.30Q273.40 381.37 275.27 382.30Q273.40 383.23 271.53 382.30Z" fill="#ff0000" />
<ellipse cx="273.40" cy="382.30" rx="1.61" ry="0.43" fill="#ff0000" />
</g></g>
<g clip-path="url(#c10)">
<path d="M221.00 414.30Q283.00 410.90 345.00 414.30Q283.00 417.70 221.00 414.30Z" fill="#ff1000" filter="url(#r1)"/>
<path d="M237.00 414.30Q283.00 413.10 329.00 414.30Q283.00 415.50 237.00 414.30Z" fill="#ffe000" filter="url(#soft)"/>
</g>
<g clip-path="url(#c10)"><g filter="url(#hzb)"><ellipse cx="276.00" cy="442.00" rx="56.00" ry="40.00" fill="url(#g62)"/></g></g>
<g clip-path="url(#c10)"><g filter="url(#spb)"><ellipse cx="278.00" cy="442.00" rx="66.00" ry="46.00" fill="url(#g63)"/></g></g>
<g clip-path="url(#c10)">
<g filter="url(#r2)">
<ellipse cx="273.60" cy="441.70" rx="22.50" ry="21.50" fill="#7000ff" opacity="0.75"/>
<ellipse cx="273.60" cy="441.70" rx="21.00" ry="20.00" fill="#d000ff" />
<path d="M226.84 441.70Q263.78 439.81 273.60 432.70Q277.80 439.81 293.60 441.70Q277.80 443.59 273.60 450.70Q263.78 443.59 226.84 441.70Z" fill="#c000ff" />
</g><g filter="url(#r1)">
<ellipse cx="273.60" cy="441.70" rx="19.80" ry="18.80" fill="#ff0000" />
<path d="M228.60 441.70Q264.15 440.10 273.60 434.10Q277.91 440.10 294.10 441.70Q277.91 443.30 273.60 449.30Q264.15 443.30 228.60 441.70Z" fill="#ff0000" />
<path d="M233.01 441.70Q265.08 440.52 273.60 436.10Q277.63 440.52 292.80 441.70Q277.63 442.88 273.60 447.30Q265.08 442.88 233.01 441.70Z" fill="#ffff00" />
<path d="M258.10 441.70Q261.98 429.70 273.60 425.70Q288.00 429.70 292.80 441.70Q288.00 453.70 273.60 457.70Q261.98 453.70 258.10 441.70Z" fill="#ffff00" />
<path d="M240.07 441.70Q266.56 440.94 273.60 438.10Q277.38 440.94 291.60 441.70Q277.38 442.46 273.60 445.30Q266.56 442.46 240.07 441.70Z" fill="#00ff00" />
<path d="M259.80 441.70Q263.80 431.05 273.60 426.70Q286.38 431.05 291.60 441.70Q286.38 452.35 273.60 456.70Q263.80 452.35 259.80 441.70Z" fill="#00ff00" />
<path d="M251.54 441.70Q268.97 441.24 273.60 439.50Q277.17 441.24 290.60 441.70Q277.17 442.16 273.60 443.90Q268.97 442.16 251.54 441.70Z" fill="#0000ff" />
<path d="M261.10 441.70Q265.35 432.46 273.60 427.70Q284.82 432.46 290.60 441.70Q284.82 450.94 273.60 455.70Q265.35 450.94 261.10 441.70Z" fill="#0000ff" />
<path d="M262.30 441.70Q267.10 434.22 273.60 428.70Q282.80 434.22 289.60 441.70Q282.80 449.18 273.60 454.70Q267.10 449.18 262.30 441.70Z" fill="#ff00ff" />
<path d="M255.07 441.70Q269.71 441.38 273.60 440.20Q276.79 441.38 288.80 441.70Q276.79 442.01 273.60 443.20Q269.71 442.01 255.07 441.70Z" fill="#ff0000" />
<path d="M263.10 441.70Q268.35 435.55 273.60 429.40Q281.20 435.55 288.80 441.70Q281.20 447.85 273.60 454.00Q268.35 447.85 263.10 441.70Z" fill="#ff0000" />
<path d="M257.72 441.70Q270.26 441.49 273.60 440.70Q276.44 441.49 287.10 441.70Q276.44 441.91 273.60 442.70Q270.26 441.91 257.72 441.70Z" fill="#ffff00" />
<path d="M264.60 441.70Q269.55 436.97 273.60 431.20Q279.68 436.97 287.10 441.70Q279.68 446.43 273.60 452.20Q269.55 446.43 264.60 441.70Z" fill="#ffff00" />
<path d="M265.60 441.70Q270.40 438.02 273.60 432.50Q278.52 438.02 285.90 441.70Q278.52 445.38 273.60 450.90Q270.40 445.38 265.60 441.70Z" fill="#00ff00" />
<path d="M266.60 441.70Q270.98 438.70 273.60 433.70Q277.73 438.70 284.60 441.70Q277.73 444.70 273.60 449.70Q270.98 444.70 266.60 441.70Z" fill="#0000ff" />
<path d="M267.40 441.70Q271.43 439.25 273.60 434.70Q277.10 439.25 283.60 441.70Q277.10 444.15 273.60 448.70Q271.43 444.15 267.40 441.70Z" fill="#ff00ff" />
<path d="M268.10 441.70Q271.68 439.53 273.60 435.50Q276.75 439.53 282.60 441.70Q276.75 443.87 273.60 447.90Q271.68 443.87 268.10 441.70Z" fill="#ff0000" />
<path d="M269.10 441.70Q272.03 439.95 273.60 436.70Q276.23 439.95 281.10 441.70Q276.23 443.45 273.60 446.70Q272.03 443.45 269.10 441.70Z" fill="#ffff00" />
<path d="M269.80 441.70Q272.27 440.30 273.60 437.70Q275.81 440.30 279.90 441.70Q275.81 443.10 273.60 445.70Q272.27 443.10 269.80 441.70Z" fill="#00ff00" />
<path d="M270.60 441.70Q272.55 440.65 273.60 438.70Q275.35 440.65 278.60 441.70Q275.35 442.75 273.60 444.70Q272.55 442.75 270.60 441.70Z" fill="#0000ff" />
<path d="M271.40 441.70Q272.72 440.82 273.60 439.50Q275.12 440.82 277.40 441.70Q275.12 442.58 273.60 443.90Q272.72 442.58 271.40 441.70Z" fill="#ff00ff" />
<path d="M272.20 441.70Q272.97 441.07 273.60 440.30Q274.68 441.07 276.00 441.70Q274.68 442.33 273.60 443.10Q272.97 442.33 272.20 441.70Z" fill="#ff0000" />
</g></g>
<g clip-path="url(#c10)"><line x1="265.40" y1="393.00" x2="278.00" y2="471.80" stroke="#ff2000" stroke-width="1.70" stroke-opacity="1.00" filter="url(#soft)"/></g>
<g clip-path="url(#c10)"><line x1="265.60" y1="393.00" x2="278.20" y2="471.80" stroke="#e0ff00" stroke-width="0.55" stroke-opacity="1.00" filter="url(#soft)"/></g>
<line x1="273.60" y1="354.10" x2="273.60" y2="471.60" stroke="#000" stroke-opacity="0.85" stroke-width="0.90" stroke-dasharray="2.4 2.4"/>
<rect x="374.10" y="353.70" width="137.40" height="118.80" fill="#0000ff"/>
<g clip-path="url(#c11)"><g filter="url(#spb)"><ellipse cx="443.10" cy="392.90" rx="42.00" ry="20.00" fill="url(#g64)"/></g></g>
<g clip-path="url(#c11)"><g filter="url(#r1)"><g transform="rotate(0 443.10 392.90)">
<ellipse cx="443.10" cy="392.90" rx="28.00" ry="10.50" fill="#ff0000" />
<ellipse cx="443.10" cy="392.90" rx="26.04" ry="9.77" fill="#ffff00" />
<ellipse cx="443.10" cy="392.90" rx="24.50" ry="9.19" fill="#00ff00" />
<ellipse cx="443.10" cy="392.90" rx="23.24" ry="8.71" fill="#0000ff" />
<ellipse cx="443.10" cy="392.90" rx="21.56" ry="8.09" fill="#ff00ff" />
<ellipse cx="443.10" cy="392.90" rx="21.00" ry="7.88" fill="#ff0000" />
<ellipse cx="443.10" cy="392.90" rx="19.04" ry="7.14" fill="#ffff00" />
<ellipse cx="443.10" cy="392.90" rx="17.64" ry="6.62" fill="#00ff00" />
<ellipse cx="443.10" cy="392.90" rx="16.52" ry="6.20" fill="#0000ff" />
<ellipse cx="443.10" cy="392.90" rx="14.56" ry="5.46" fill="#ff00ff" />
<ellipse cx="443.10" cy="392.90" rx="14.00" ry="5.25" fill="#ff0000" />
<ellipse cx="443.10" cy="392.90" rx="12.04" ry="4.51" fill="#ffff00" />
<ellipse cx="443.10" cy="392.90" rx="10.78" ry="4.04" fill="#00ff00" />
<ellipse cx="443.10" cy="392.90" rx="9.52" ry="3.57" fill="#0000ff" />
<ellipse cx="443.10" cy="392.90" rx="7.84" ry="2.94" fill="#ff00ff" />
<ellipse cx="443.10" cy="392.90" rx="5.60" ry="2.10" fill="#ff0060" />
<ellipse cx="443.10" cy="392.90" rx="3.36" ry="1.26" fill="#ff0000" />
</g></g></g>
<g clip-path="url(#c11)"><g filter="url(#spb)"><ellipse cx="446.00" cy="452.80" rx="50.00" ry="2.40" fill="url(#g65)"/></g></g>
<g clip-path="url(#c11)">
<path d="M402.00 452.60Q440.00 451.40 478.00 452.60Q440.00 453.80 402.00 452.60Z" fill="#ff3000" opacity="0.85" filter="url(#r1)"/>
</g>
<line x1="443.00" y1="353.70" x2="443.00" y2="472.50" stroke="#000" stroke-opacity="0.85" stroke-width="0.90" stroke-dasharray="2.4 2.4"/>
<rect x="545.20" y="352.50" width="131.80" height="119.10" fill="#0000ff"/>
<g clip-path="url(#c12)"><g filter="url(#hzr)"><ellipse cx="611.30" cy="419.50" rx="38.00" ry="48.00" fill="url(#g66)"/></g></g>
<g clip-path="url(#c12)"><g filter="url(#spr)"><ellipse cx="611.30" cy="419.00" rx="74.00" ry="82.00" fill="url(#g67)"/></g></g>
<g clip-path="url(#c12)">
<ellipse cx="611.20" cy="419.60" rx="23.50" ry="29.50" fill="url(#g68)" filter="url(#r6)"/>
</g>
<g clip-path="url(#c12)"><g filter="url(#r4)"><g transform="rotate(0 611.10 417.40)">
<ellipse cx="611.10" cy="419.20" rx="16.00" ry="19.00" fill="#ff6000" />
<ellipse cx="611.10" cy="419.20" rx="14.60" ry="17.50" fill="#ffff00" />
<ellipse cx="611.10" cy="418.80" rx="12.40" ry="15.00" fill="#00ff00" />
<ellipse cx="611.10" cy="418.20" rx="9.70" ry="12.00" fill="#0000ff" />
<ellipse cx="611.10" cy="417.70" rx="7.50" ry="10.00" fill="#ff00ff" />
<ellipse cx="611.10" cy="417.40" rx="6.20" ry="9.00" fill="#ff0070" />
<ellipse cx="611.10" cy="417.40" rx="5.00" ry="8.00" fill="#ff0000" />
<ellipse cx="611.10" cy="416.60" rx="3.60" ry="5.60" fill="#ff7000" />
<ellipse cx="611.10" cy="416.20" rx="2.50" ry="4.00" fill="#ffd000" />
</g></g></g>
<line x1="611.30" y1="352.50" x2="611.30" y2="471.60" stroke="#000" stroke-opacity="0.85" stroke-width="0.90" stroke-dasharray="2.4 2.4"/>
<text x="24.07" y="194.30" font-size="8.00" fill="#111" textLength="9.23" lengthAdjust="spacingAndGlyphs">6.5</text>
<text x="20.38" y="214.10" font-size="8.00" fill="#111" textLength="12.92" lengthAdjust="spacingAndGlyphs">6.45</text>
<text x="24.07" y="233.90" font-size="8.00" fill="#111" textLength="9.23" lengthAdjust="spacingAndGlyphs">6.4</text>
<text x="20.38" y="253.70" font-size="8.00" fill="#111" textLength="12.92" lengthAdjust="spacingAndGlyphs">6.35</text>
<text x="24.07" y="273.50" font-size="8.00" fill="#111" textLength="9.23" lengthAdjust="spacingAndGlyphs">6.3</text>
<text x="20.38" y="293.30" font-size="8.00" fill="#111" textLength="12.92" lengthAdjust="spacingAndGlyphs">6.25</text>
<text x="24.07" y="313.10" font-size="8.00" fill="#111" textLength="9.23" lengthAdjust="spacingAndGlyphs">6.2</text>
<text x="30.28" y="321.50" font-size="8.00" fill="#111" textLength="11.44" lengthAdjust="spacingAndGlyphs">-2.5</text>
<text x="63.33" y="321.50" font-size="8.00" fill="#111" textLength="11.44" lengthAdjust="spacingAndGlyphs">-2.4</text>
<text x="96.38" y="321.50" font-size="8.00" fill="#111" textLength="11.44" lengthAdjust="spacingAndGlyphs">-2.3</text>
<text x="129.43" y="321.50" font-size="8.00" fill="#111" textLength="11.44" lengthAdjust="spacingAndGlyphs">-2.2</text>
<text x="162.48" y="321.50" font-size="8.00" fill="#111" textLength="11.44" lengthAdjust="spacingAndGlyphs">-2.1</text>
<text x="82.70" y="335.90" font-size="10.30" fill="#111" textLength="38.80" lengthAdjust="spacingAndGlyphs">q<tspan dy="3.09" font-size="8.03">ang</tspan><tspan dy="-3.09"> [Å</tspan><tspan dy="-3.71" font-size="7.00">-1</tspan><tspan dy="3.71">]</tspan></text>
<text transform="translate(13.00 273.70) rotate(-90)" font-size="9.60" fill="#111" textLength="44.30" lengthAdjust="spacingAndGlyphs">q<tspan dy="2.88" font-size="7.49">rad</tspan><tspan dy="-2.88"> [Å</tspan><tspan dy="-3.46" font-size="6.53">-1</tspan><tspan dy="3.46">]</tspan></text>
<text x="191.38" y="197.10" font-size="8.00" fill="#111" textLength="12.92" lengthAdjust="spacingAndGlyphs">3.25</text>
<text x="195.07" y="213.50" font-size="8.00" fill="#111" textLength="9.23" lengthAdjust="spacingAndGlyphs">3.2</text>
<text x="191.38" y="229.90" font-size="8.00" fill="#111" textLength="12.92" lengthAdjust="spacingAndGlyphs">3.15</text>
<text x="195.07" y="246.30" font-size="8.00" fill="#111" textLength="9.23" lengthAdjust="spacingAndGlyphs">3.1</text>
<text x="191.38" y="262.70" font-size="8.00" fill="#111" textLength="12.92" lengthAdjust="spacingAndGlyphs">3.05</text>
<text x="200.61" y="279.10" font-size="8.00" fill="#111" textLength="3.69" lengthAdjust="spacingAndGlyphs">3</text>
<text x="191.38" y="295.50" font-size="8.00" fill="#111" textLength="12.92" lengthAdjust="spacingAndGlyphs">2.95</text>
<text x="201.28" y="320.70" font-size="8.00" fill="#111" textLength="11.44" lengthAdjust="spacingAndGlyphs">-0.2</text>
<text x="234.58" y="320.70" font-size="8.00" fill="#111" textLength="11.44" lengthAdjust="spacingAndGlyphs">-0.1</text>
<text x="271.75" y="320.70" font-size="8.00" fill="#111" textLength="3.69" lengthAdjust="spacingAndGlyphs">0</text>
<text x="302.29" y="320.70" font-size="8.00" fill="#111" textLength="9.23" lengthAdjust="spacingAndGlyphs">0.1</text>
<text x="335.59" y="320.70" font-size="8.00" fill="#111" textLength="9.23" lengthAdjust="spacingAndGlyphs">0.2</text>
<text x="254.20" y="335.10" font-size="10.30" fill="#111" textLength="38.80" lengthAdjust="spacingAndGlyphs">q<tspan dy="3.09" font-size="8.03">ang</tspan><tspan dy="-3.09"> [Å</tspan><tspan dy="-3.71" font-size="7.00">-1</tspan><tspan dy="3.71">]</tspan></text>
<text transform="translate(184.00 272.85) rotate(-90)" font-size="9.60" fill="#111" textLength="44.30" lengthAdjust="spacingAndGlyphs">q<tspan dy="2.88" font-size="7.49">rad</tspan><tspan dy="-2.88"> [Å</tspan><tspan dy="-3.46" font-size="6.53">-1</tspan><tspan dy="3.46">]</tspan></text>
<text x="362.17" y="210.10" font-size="8.00" fill="#111" textLength="9.23" lengthAdjust="spacingAndGlyphs">6.4</text>
<text x="358.48" y="227.20" font-size="8.00" fill="#111" textLength="12.92" lengthAdjust="spacingAndGlyphs">6.35</text>
<text x="362.17" y="244.30" font-size="8.00" fill="#111" textLength="9.23" lengthAdjust="spacingAndGlyphs">6.3</text>
<text x="358.48" y="261.40" font-size="8.00" fill="#111" textLength="12.92" lengthAdjust="spacingAndGlyphs">6.25</text>
<text x="362.17" y="278.50" font-size="8.00" fill="#111" textLength="9.23" lengthAdjust="spacingAndGlyphs">6.2</text>
<text x="358.48" y="295.60" font-size="8.00" fill="#111" textLength="12.92" lengthAdjust="spacingAndGlyphs">6.15</text>
<text x="362.17" y="312.70" font-size="8.00" fill="#111" textLength="9.23" lengthAdjust="spacingAndGlyphs">6.1</text>
<text x="382.28" y="320.50" font-size="8.00" fill="#111" textLength="11.44" lengthAdjust="spacingAndGlyphs">-0.2</text>
<text x="408.98" y="320.50" font-size="8.00" fill="#111" textLength="11.44" lengthAdjust="spacingAndGlyphs">-0.1</text>
<text x="439.55" y="320.50" font-size="8.00" fill="#111" textLength="3.69" lengthAdjust="spacingAndGlyphs">0</text>
<text x="463.49" y="320.50" font-size="8.00" fill="#111" textLength="9.23" lengthAdjust="spacingAndGlyphs">0.1</text>
<text x="490.19" y="320.50" font-size="8.00" fill="#111" textLength="9.23" lengthAdjust="spacingAndGlyphs">0.2</text>
<text x="422.25" y="334.90" font-size="10.30" fill="#111" textLength="38.80" lengthAdjust="spacingAndGlyphs">q<tspan dy="3.09" font-size="8.03">ang</tspan><tspan dy="-3.09"> [Å</tspan><tspan dy="-3.71" font-size="7.00">-1</tspan><tspan dy="3.71">]</tspan></text>
<text transform="translate(351.10 272.40) rotate(-90)" font-size="9.60" fill="#111" textLength="44.30" lengthAdjust="spacingAndGlyphs">q<tspan dy="2.88" font-size="7.49">rad</tspan><tspan dy="-2.88"> [Å</tspan><tspan dy="-3.46" font-size="6.53">-1</tspan><tspan dy="3.46">]</tspan></text>
<text x="533.67" y="204.40" font-size="8.00" fill="#111" textLength="9.23" lengthAdjust="spacingAndGlyphs">9.6</text>
<text x="529.98" y="231.20" font-size="8.00" fill="#111" textLength="12.92" lengthAdjust="spacingAndGlyphs">9.55</text>
<text x="533.67" y="258.00" font-size="8.00" fill="#111" textLength="9.23" lengthAdjust="spacingAndGlyphs">9.5</text>
<text x="529.98" y="284.80" font-size="8.00" fill="#111" textLength="12.92" lengthAdjust="spacingAndGlyphs">9.45</text>
<text x="533.67" y="311.60" font-size="8.00" fill="#111" textLength="9.23" lengthAdjust="spacingAndGlyphs">9.4</text>
<text x="539.88" y="319.70" font-size="8.00" fill="#111" textLength="11.44" lengthAdjust="spacingAndGlyphs">-0.4</text>
<text x="573.03" y="319.70" font-size="8.00" fill="#111" textLength="11.44" lengthAdjust="spacingAndGlyphs">-0.2</text>
<text x="610.05" y="319.70" font-size="8.00" fill="#111" textLength="3.69" lengthAdjust="spacingAndGlyphs">0</text>
<text x="640.44" y="319.70" font-size="8.00" fill="#111" textLength="9.23" lengthAdjust="spacingAndGlyphs">0.2</text>
<text x="673.59" y="319.70" font-size="8.00" fill="#111" textLength="9.23" lengthAdjust="spacingAndGlyphs">0.4</text>
<text x="592.50" y="334.10" font-size="10.30" fill="#111" textLength="38.80" lengthAdjust="spacingAndGlyphs">q<tspan dy="3.09" font-size="8.03">ang</tspan><tspan dy="-3.09"> [Å</tspan><tspan dy="-3.71" font-size="7.00">-1</tspan><tspan dy="3.71">]</tspan></text>
<text transform="translate(522.60 272.60) rotate(-90)" font-size="9.60" fill="#111" textLength="44.30" lengthAdjust="spacingAndGlyphs">q<tspan dy="2.88" font-size="7.49">rad</tspan><tspan dy="-2.88"> [Å</tspan><tspan dy="-3.46" font-size="6.53">-1</tspan><tspan dy="3.46">]</tspan></text>
<text x="24.27" y="357.20" font-size="8.00" fill="#111" textLength="9.23" lengthAdjust="spacingAndGlyphs">6.5</text>
<text x="20.58" y="376.77" font-size="8.00" fill="#111" textLength="12.92" lengthAdjust="spacingAndGlyphs">6.45</text>
<text x="24.27" y="396.33" font-size="8.00" fill="#111" textLength="9.23" lengthAdjust="spacingAndGlyphs">6.4</text>
<text x="20.58" y="415.90" font-size="8.00" fill="#111" textLength="12.92" lengthAdjust="spacingAndGlyphs">6.35</text>
<text x="24.27" y="435.47" font-size="8.00" fill="#111" textLength="9.23" lengthAdjust="spacingAndGlyphs">6.3</text>
<text x="20.58" y="455.03" font-size="8.00" fill="#111" textLength="12.92" lengthAdjust="spacingAndGlyphs">6.25</text>
<text x="24.27" y="474.60" font-size="8.00" fill="#111" textLength="9.23" lengthAdjust="spacingAndGlyphs">6.2</text>
<text x="30.48" y="483.00" font-size="8.00" fill="#111" textLength="11.44" lengthAdjust="spacingAndGlyphs">-2.5</text>
<text x="63.65" y="483.00" font-size="8.00" fill="#111" textLength="11.44" lengthAdjust="spacingAndGlyphs">-2.4</text>
<text x="96.83" y="483.00" font-size="8.00" fill="#111" textLength="11.44" lengthAdjust="spacingAndGlyphs">-2.3</text>
<text x="130.00" y="483.00" font-size="8.00" fill="#111" textLength="11.44" lengthAdjust="spacingAndGlyphs">-2.2</text>
<text x="163.18" y="483.00" font-size="8.00" fill="#111" textLength="11.44" lengthAdjust="spacingAndGlyphs">-2.1</text>
<text x="83.15" y="497.40" font-size="10.30" fill="#111" textLength="38.80" lengthAdjust="spacingAndGlyphs">q<tspan dy="3.09" font-size="8.03">ang</tspan><tspan dy="-3.09"> [Å</tspan><tspan dy="-3.71" font-size="7.00">-1</tspan><tspan dy="3.71">]</tspan></text>
<text transform="translate(13.20 435.90) rotate(-90)" font-size="9.60" fill="#111" textLength="44.30" lengthAdjust="spacingAndGlyphs">q<tspan dy="2.88" font-size="7.49">rad</tspan><tspan dy="-2.88"> [Å</tspan><tspan dy="-3.46" font-size="6.53">-1</tspan><tspan dy="3.46">]</tspan></text>
<text x="191.38" y="360.60" font-size="8.00" fill="#111" textLength="12.92" lengthAdjust="spacingAndGlyphs">3.25</text>
<text x="195.07" y="376.90" font-size="8.00" fill="#111" textLength="9.23" lengthAdjust="spacingAndGlyphs">3.2</text>
<text x="191.38" y="393.20" font-size="8.00" fill="#111" textLength="12.92" lengthAdjust="spacingAndGlyphs">3.15</text>
<text x="195.07" y="409.50" font-size="8.00" fill="#111" textLength="9.23" lengthAdjust="spacingAndGlyphs">3.1</text>
<text x="191.38" y="425.80" font-size="8.00" fill="#111" textLength="12.92" lengthAdjust="spacingAndGlyphs">3.05</text>
<text x="200.61" y="442.10" font-size="8.00" fill="#111" textLength="3.69" lengthAdjust="spacingAndGlyphs">3</text>
<text x="191.38" y="458.40" font-size="8.00" fill="#111" textLength="12.92" lengthAdjust="spacingAndGlyphs">2.95</text>
<text x="201.28" y="482.60" font-size="8.00" fill="#111" textLength="11.44" lengthAdjust="spacingAndGlyphs">-0.2</text>
<text x="234.53" y="482.60" font-size="8.00" fill="#111" textLength="11.44" lengthAdjust="spacingAndGlyphs">-0.1</text>
<text x="271.65" y="482.60" font-size="8.00" fill="#111" textLength="3.69" lengthAdjust="spacingAndGlyphs">0</text>
<text x="302.14" y="482.60" font-size="8.00" fill="#111" textLength="9.23" lengthAdjust="spacingAndGlyphs">0.1</text>
<text x="335.39" y="482.60" font-size="8.00" fill="#111" textLength="9.23" lengthAdjust="spacingAndGlyphs">0.2</text>
<text x="254.10" y="497.00" font-size="10.30" fill="#111" textLength="38.80" lengthAdjust="spacingAndGlyphs">q<tspan dy="3.09" font-size="8.03">ang</tspan><tspan dy="-3.09"> [Å</tspan><tspan dy="-3.71" font-size="7.00">-1</tspan><tspan dy="3.71">]</tspan></text>
<text transform="translate(184.00 435.45) rotate(-90)" font-size="9.60" fill="#111" textLength="44.30" lengthAdjust="spacingAndGlyphs">q<tspan dy="2.88" font-size="7.49">rad</tspan><tspan dy="-2.88"> [Å</tspan><tspan dy="-3.46" font-size="6.53">-1</tspan><tspan dy="3.46">]</tspan></text>
<text x="362.17" y="374.10" font-size="8.00" fill="#111" textLength="9.23" lengthAdjust="spacingAndGlyphs">6.4</text>
<text x="358.48" y="390.98" font-size="8.00" fill="#111" textLength="12.92" lengthAdjust="spacingAndGlyphs">6.35</text>
<text x="362.17" y="407.87" font-size="8.00" fill="#111" textLength="9.23" lengthAdjust="spacingAndGlyphs">6.3</text>
<text x="358.48" y="424.75" font-size="8.00" fill="#111" textLength="12.92" lengthAdjust="spacingAndGlyphs">6.25</text>
<text x="362.17" y="441.63" font-size="8.00" fill="#111" textLength="9.23" lengthAdjust="spacingAndGlyphs">6.2</text>
<text x="358.48" y="458.52" font-size="8.00" fill="#111" textLength="12.92" lengthAdjust="spacingAndGlyphs">6.15</text>
<text x="362.17" y="475.40" font-size="8.00" fill="#111" textLength="9.23" lengthAdjust="spacingAndGlyphs">6.1</text>
<text x="382.08" y="483.50" font-size="8.00" fill="#111" textLength="11.44" lengthAdjust="spacingAndGlyphs">-0.2</text>
<text x="409.68" y="483.50" font-size="8.00" fill="#111" textLength="11.44" lengthAdjust="spacingAndGlyphs">-0.1</text>
<text x="441.15" y="483.50" font-size="8.00" fill="#111" textLength="3.69" lengthAdjust="spacingAndGlyphs">0</text>
<text x="465.99" y="483.50" font-size="8.00" fill="#111" textLength="9.23" lengthAdjust="spacingAndGlyphs">0.1</text>
<text x="493.59" y="483.50" font-size="8.00" fill="#111" textLength="9.23" lengthAdjust="spacingAndGlyphs">0.2</text>
<text x="423.40" y="497.90" font-size="10.30" fill="#111" textLength="38.80" lengthAdjust="spacingAndGlyphs">q<tspan dy="3.09" font-size="8.03">ang</tspan><tspan dy="-3.09"> [Å</tspan><tspan dy="-3.71" font-size="7.00">-1</tspan><tspan dy="3.71">]</tspan></text>
<text transform="translate(351.10 435.70) rotate(-90)" font-size="9.60" fill="#111" textLength="44.30" lengthAdjust="spacingAndGlyphs">q<tspan dy="2.88" font-size="7.49">rad</tspan><tspan dy="-2.88"> [Å</tspan><tspan dy="-3.46" font-size="6.53">-1</tspan><tspan dy="3.46">]</tspan></text>
<text x="533.27" y="365.60" font-size="8.00" fill="#111" textLength="9.23" lengthAdjust="spacingAndGlyphs">9.6</text>
<text x="529.58" y="392.90" font-size="8.00" fill="#111" textLength="12.92" lengthAdjust="spacingAndGlyphs">9.55</text>
<text x="533.27" y="420.20" font-size="8.00" fill="#111" textLength="9.23" lengthAdjust="spacingAndGlyphs">9.5</text>
<text x="529.58" y="447.50" font-size="8.00" fill="#111" textLength="12.92" lengthAdjust="spacingAndGlyphs">9.45</text>
<text x="533.27" y="474.40" font-size="8.00" fill="#111" textLength="9.23" lengthAdjust="spacingAndGlyphs">9.4</text>
<text x="539.48" y="481.50" font-size="8.00" fill="#111" textLength="11.44" lengthAdjust="spacingAndGlyphs">-0.4</text>
<text x="572.43" y="481.50" font-size="8.00" fill="#111" textLength="11.44" lengthAdjust="spacingAndGlyphs">-0.2</text>
<text x="609.25" y="481.50" font-size="8.00" fill="#111" textLength="3.69" lengthAdjust="spacingAndGlyphs">0</text>
<text x="639.44" y="481.50" font-size="8.00" fill="#111" textLength="9.23" lengthAdjust="spacingAndGlyphs">0.2</text>
<text x="672.39" y="481.50" font-size="8.00" fill="#111" textLength="9.23" lengthAdjust="spacingAndGlyphs">0.4</text>
<text x="591.70" y="495.90" font-size="10.30" fill="#111" textLength="38.80" lengthAdjust="spacingAndGlyphs">q<tspan dy="3.09" font-size="8.03">ang</tspan><tspan dy="-3.09"> [Å</tspan><tspan dy="-3.71" font-size="7.00">-1</tspan><tspan dy="3.71">]</tspan></text>
<text transform="translate(522.20 434.65) rotate(-90)" font-size="9.60" fill="#111" textLength="44.30" lengthAdjust="spacingAndGlyphs">q<tspan dy="2.88" font-size="7.49">rad</tspan><tspan dy="-2.88"> [Å</tspan><tspan dy="-3.46" font-size="6.53">-1</tspan><tspan dy="3.46">]</tspan></text>
<text x="54.70" y="201.80" font-size="11.90" fill="#ffff00" textLength="73.90" lengthAdjust="spacingAndGlyphs">As-deposited</text>
<text x="140.10" y="201.80" font-size="11.90" fill="#ffff00" textLength="16.10" lengthAdjust="spacingAndGlyphs">RT</text>
<text x="123.70" y="233.80" font-size="11.90" fill="#ffff00" textLength="33.50" lengthAdjust="spacingAndGlyphs">BSTO</text>
<text x="118.70" y="308.40" font-size="11.90" fill="#ffff00" textLength="45.00" lengthAdjust="spacingAndGlyphs">XRD204</text>
<text x="223.20" y="200.20" font-size="11.90" fill="#ffff00" textLength="74.50" lengthAdjust="spacingAndGlyphs">As-deposited</text>
<text x="309.10" y="200.20" font-size="11.90" fill="#ffff00" textLength="16.20" lengthAdjust="spacingAndGlyphs">RT</text>
<text x="300.60" y="213.30" font-size="11.90" fill="#ffff00" textLength="33.50" lengthAdjust="spacingAndGlyphs">BSTO</text>
<text x="294.70" y="280.60" font-size="11.90" fill="#ffff00" textLength="26.60" lengthAdjust="spacingAndGlyphs">MgO</text>
<text x="290.80" y="308.60" font-size="11.90" fill="#ffff00" textLength="44.30" lengthAdjust="spacingAndGlyphs">XRD002</text>
<text x="391.40" y="199.20" font-size="11.90" fill="#ffff00" textLength="73.60" lengthAdjust="spacingAndGlyphs">As-deposited</text>
<text x="476.20" y="199.20" font-size="11.90" fill="#ffff00" textLength="16.30" lengthAdjust="spacingAndGlyphs">RT</text>
<text x="409.20" y="215.20" font-size="11.90" fill="#ffff00" textLength="33.30" lengthAdjust="spacingAndGlyphs">BSTO</text>
<text x="462.50" y="307.50" font-size="11.90" fill="#ffff00" textLength="44.70" lengthAdjust="spacingAndGlyphs">XRD004</text>
<text x="563.00" y="201.30" font-size="11.90" fill="#ffff00" textLength="74.00" lengthAdjust="spacingAndGlyphs">As-deposited</text>
<text x="648.20" y="201.30" font-size="11.90" fill="#ffff00" textLength="16.40" lengthAdjust="spacingAndGlyphs">RT</text>
<text x="629.80" y="237.00" font-size="11.90" fill="#ffff00" textLength="33.70" lengthAdjust="spacingAndGlyphs">BSTO</text>
<text x="630.60" y="306.50" font-size="11.90" fill="#ffff00" textLength="45.40" lengthAdjust="spacingAndGlyphs">XRD006</text>
<text x="54.00" y="365.90" font-size="11.90" fill="#ffff00" textLength="82.10" lengthAdjust="spacingAndGlyphs">Post-annealed</text>
<text x="144.30" y="365.90" font-size="11.90" fill="#ffff00" textLength="16.40" lengthAdjust="spacingAndGlyphs">RT</text>
<text x="126.30" y="391.50" font-size="11.90" fill="#ffff00" textLength="34.00" lengthAdjust="spacingAndGlyphs">BSTO</text>
<text x="121.50" y="468.60" font-size="11.90" fill="#ffff00" textLength="45.70" lengthAdjust="spacingAndGlyphs">XRD204</text>
<text x="227.40" y="363.90" font-size="11.90" fill="#ffff00" textLength="81.20" lengthAdjust="spacingAndGlyphs">Post-annealed</text>
<text x="318.00" y="363.90" font-size="11.90" fill="#ffff00" textLength="16.70" lengthAdjust="spacingAndGlyphs">RT</text>
<text x="298.60" y="377.60" font-size="11.90" fill="#ffff00" textLength="33.50" lengthAdjust="spacingAndGlyphs">BSTO</text>
<text x="285.60" y="412.00" font-size="11.90" fill="#ffff00" textLength="33.60" lengthAdjust="spacingAndGlyphs">BSTO</text>
<text x="291.10" y="445.00" font-size="11.90" fill="#ffff00" textLength="26.10" lengthAdjust="spacingAndGlyphs">MgO</text>
<text x="289.60" y="469.70" font-size="11.90" fill="#ffff00" textLength="44.70" lengthAdjust="spacingAndGlyphs">XRD002</text>
<text x="394.40" y="363.90" font-size="11.90" fill="#ffff00" textLength="81.20" lengthAdjust="spacingAndGlyphs">Post-annealed</text>
<text x="485.00" y="363.90" font-size="11.90" fill="#ffff00" textLength="16.70" lengthAdjust="spacingAndGlyphs">RT</text>
<text x="426.70" y="375.50" font-size="11.90" fill="#ffff00" textLength="33.50" lengthAdjust="spacingAndGlyphs">BSTO</text>
<text x="439.80" y="448.20" font-size="11.90" fill="#ffff00" textLength="33.90" lengthAdjust="spacingAndGlyphs">BSTO</text>
<text x="463.30" y="470.70" font-size="11.90" fill="#ffff00" textLength="44.60" lengthAdjust="spacingAndGlyphs">XRD004</text>
<text x="563.80" y="363.90" font-size="11.90" fill="#ffff00" textLength="81.80" lengthAdjust="spacingAndGlyphs">Post-annealed</text>
<text x="655.00" y="363.90" font-size="11.90" fill="#ffff00" textLength="16.30" lengthAdjust="spacingAndGlyphs">RT</text>
<text x="629.80" y="390.90" font-size="11.90" fill="#ffff00" textLength="33.70" lengthAdjust="spacingAndGlyphs">BSTO</text>
<text x="628.10" y="469.70" font-size="11.90" fill="#ffff00" textLength="45.20" lengthAdjust="spacingAndGlyphs">XRD006</text>
<text x="2.20" y="17.00" font-size="20.00" fill="#000" textLength="15.60" lengthAdjust="spacingAndGlyphs">a)</text>
<text x="2.50" y="188.60" font-size="18.50" fill="#000" textLength="16.50" lengthAdjust="spacingAndGlyphs">b)</text>
</svg>
</body></html>
